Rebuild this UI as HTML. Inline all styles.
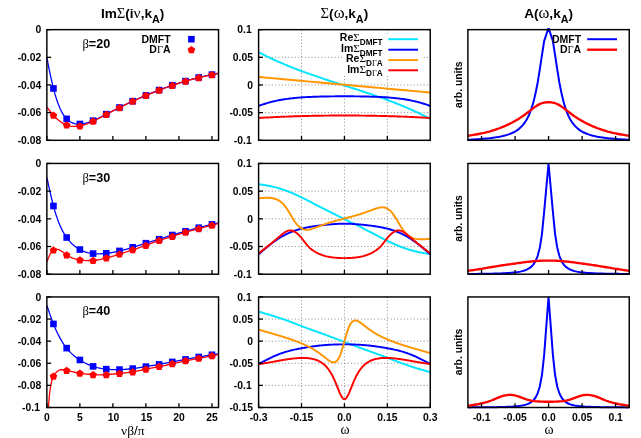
<!DOCTYPE html>
<html><head><meta charset="utf-8"><title>Self-energy and spectral function</title>
<style>html,body{margin:0;padding:0;background:#fff;overflow:hidden}body{width:641px;height:438px;font-family:"Liberation Sans",sans-serif}svg text{fill:#000}</style></head>
<body>
<svg width="641" height="438" viewBox="0 0 641 438" style="display:block;will-change:transform"><defs><clipPath id="c00"><rect x="46.85" y="29.65" width="171.7" height="110.65"/></clipPath><clipPath id="c01"><rect x="46.85" y="163.45" width="171.7" height="110.75"/></clipPath><clipPath id="c02"><rect x="46.85" y="296.95" width="171.7" height="110.55"/></clipPath><clipPath id="c10"><rect x="258.6" y="29.65" width="171.65" height="110.65"/></clipPath><clipPath id="c11"><rect x="258.6" y="163.45" width="171.65" height="110.75"/></clipPath><clipPath id="c12"><rect x="258.6" y="296.95" width="171.65" height="110.55"/></clipPath><clipPath id="c20"><rect x="467.9" y="27.95" width="161.35" height="113.55"/></clipPath><clipPath id="c21"><rect x="467.9" y="163.25" width="161.35" height="112.15"/></clipPath><clipPath id="c22"><rect x="467.9" y="296.75" width="161.35" height="111.95"/></clipPath></defs><rect width="641" height="438" fill="#fff"/><path d="M46.85 57.73 L48.17 64.3 L49.49 70.77 L50.81 77.02 L52.13 82.94 L53.45 88.43 L54.77 93.4 L56.1 97.86 L57.42 101.83 L58.74 105.36 L60.06 108.47 L61.38 111.2 L62.7 113.57 L64.02 115.61 L65.34 117.37 L66.66 118.86 L67.98 120.13 L69.3 121.18 L70.62 122.03 L71.94 122.71 L73.27 123.23 L74.59 123.6 L75.91 123.85 L77.23 123.98 L78.55 124.02 L79.87 123.98 L81.19 123.88 L82.51 123.72 L83.83 123.5 L85.15 123.23 L86.47 122.91 L87.79 122.55 L89.11 122.14 L90.44 121.68 L91.76 121.19 L93.08 120.66 L94.4 120.1 L95.72 119.5 L97.04 118.88 L98.36 118.24 L99.68 117.58 L101 116.91 L102.32 116.23 L103.64 115.54 L104.96 114.85 L106.28 114.16 L107.61 113.48 L108.93 112.8 L110.25 112.13 L111.57 111.46 L112.89 110.79 L114.21 110.13 L115.53 109.48 L116.85 108.82 L118.17 108.17 L119.49 107.52 L120.81 106.87 L122.13 106.22 L123.45 105.58 L124.78 104.93 L126.1 104.29 L127.42 103.66 L128.74 103.02 L130.06 102.4 L131.38 101.77 L132.7 101.16 L134.02 100.55 L135.34 99.94 L136.66 99.35 L137.98 98.76 L139.3 98.17 L140.62 97.6 L141.95 97.03 L143.27 96.46 L144.59 95.9 L145.91 95.35 L147.23 94.8 L148.55 94.26 L149.87 93.72 L151.19 93.19 L152.51 92.67 L153.83 92.15 L155.15 91.63 L156.47 91.11 L157.79 90.6 L159.12 90.09 L160.44 89.59 L161.76 89.08 L163.08 88.59 L164.4 88.09 L165.72 87.6 L167.04 87.12 L168.36 86.64 L169.68 86.17 L171 85.71 L172.32 85.25 L173.64 84.81 L174.96 84.37 L176.29 83.94 L177.61 83.51 L178.93 83.1 L180.25 82.69 L181.57 82.28 L182.89 81.89 L184.21 81.49 L185.53 81.1 L186.85 80.72 L188.17 80.33 L189.49 79.96 L190.81 79.59 L192.13 79.22 L193.46 78.86 L194.78 78.51 L196.1 78.17 L197.42 77.83 L198.74 77.51 L200.06 77.19 L201.38 76.88 L202.7 76.58 L204.02 76.28 L205.34 76 L206.66 75.71 L207.98 75.43 L209.3 75.15 L210.63 74.88 L211.95 74.6 L213.27 74.33 L214.59 74.05 L215.91 73.77 L217.23 73.5 L218.55 73.22" fill="none" stroke="#0000ff" stroke-width="1.3" stroke-linejoin="round" stroke-linecap="butt" clip-path="url(#c00)"/>
<path d="M46.85 107.1 L48.17 108.82 L49.49 110.51 L50.81 112.16 L52.13 113.75 L53.45 115.27 L54.77 116.69 L56.1 118.01 L57.42 119.23 L58.74 120.36 L60.06 121.39 L61.38 122.32 L62.7 123.16 L64.02 123.9 L65.34 124.54 L66.66 125.09 L67.98 125.53 L69.3 125.89 L70.62 126.16 L71.94 126.34 L73.27 126.44 L74.59 126.47 L75.91 126.43 L77.23 126.32 L78.55 126.15 L79.87 125.92 L81.19 125.63 L82.51 125.29 L83.83 124.91 L85.15 124.48 L86.47 124.02 L87.79 123.52 L89.11 122.98 L90.44 122.42 L91.76 121.83 L93.08 121.21 L94.4 120.58 L95.72 119.93 L97.04 119.27 L98.36 118.6 L99.68 117.92 L101 117.23 L102.32 116.53 L103.64 115.83 L104.96 115.13 L106.28 114.44 L107.61 113.74 L108.93 113.05 L110.25 112.36 L111.57 111.68 L112.89 111 L114.21 110.32 L115.53 109.65 L116.85 108.98 L118.17 108.32 L119.49 107.66 L120.81 107 L122.13 106.35 L123.45 105.7 L124.78 105.06 L126.1 104.42 L127.42 103.78 L128.74 103.15 L130.06 102.53 L131.38 101.91 L132.7 101.3 L134.02 100.69 L135.34 100.09 L136.66 99.49 L137.98 98.9 L139.3 98.32 L140.62 97.74 L141.95 97.17 L143.27 96.6 L144.59 96.04 L145.91 95.49 L147.23 94.94 L148.55 94.4 L149.87 93.86 L151.19 93.33 L152.51 92.8 L153.83 92.28 L155.15 91.76 L156.47 91.25 L157.79 90.74 L159.12 90.23 L160.44 89.73 L161.76 89.22 L163.08 88.72 L164.4 88.23 L165.72 87.74 L167.04 87.26 L168.36 86.78 L169.68 86.31 L171 85.84 L172.32 85.39 L173.64 84.94 L174.96 84.51 L176.29 84.08 L177.61 83.65 L178.93 83.24 L180.25 82.83 L181.57 82.42 L182.89 82.02 L184.21 81.63 L185.53 81.24 L186.85 80.85 L188.17 80.47 L189.49 80.1 L190.81 79.73 L192.13 79.36 L193.46 79 L194.78 78.65 L196.1 78.31 L197.42 77.97 L198.74 77.64 L200.06 77.33 L201.38 77.02 L202.7 76.72 L204.02 76.42 L205.34 76.13 L206.66 75.85 L207.98 75.57 L209.3 75.29 L210.63 75.02 L211.95 74.74 L213.27 74.46 L214.59 74.19 L215.91 73.91 L217.23 73.64 L218.55 73.36" fill="none" stroke="#ff0000" stroke-width="1.3" stroke-linejoin="round" stroke-linecap="butt" clip-path="url(#c00)"/>
<rect x="50.15" y="85.13" width="6.6" height="6.6" fill="#0000ff"/>
<rect x="63.36" y="115.56" width="6.6" height="6.6" fill="#0000ff"/>
<rect x="76.57" y="120.68" width="6.6" height="6.6" fill="#0000ff"/>
<rect x="89.78" y="117.36" width="6.6" height="6.6" fill="#0000ff"/>
<rect x="102.98" y="110.86" width="6.6" height="6.6" fill="#0000ff"/>
<rect x="116.19" y="104.22" width="6.6" height="6.6" fill="#0000ff"/>
<rect x="129.4" y="97.86" width="6.6" height="6.6" fill="#0000ff"/>
<rect x="142.61" y="92.05" width="6.6" height="6.6" fill="#0000ff"/>
<rect x="155.82" y="86.79" width="6.6" height="6.6" fill="#0000ff"/>
<rect x="169.02" y="81.95" width="6.6" height="6.6" fill="#0000ff"/>
<rect x="182.23" y="77.8" width="6.6" height="6.6" fill="#0000ff"/>
<rect x="195.44" y="74.21" width="6.6" height="6.6" fill="#0000ff"/>
<rect x="208.65" y="71.3" width="6.6" height="6.6" fill="#0000ff"/>
<polygon points="53.45,111.52 57.26,114.28 55.8,118.75 51.1,118.75 49.65,114.28" fill="#ff0000"/>
<polygon points="66.66,121.34 70.47,124.1 69.01,128.57 64.31,128.57 62.86,124.1" fill="#ff0000"/>
<polygon points="79.87,122.17 83.67,124.93 82.22,129.4 77.52,129.4 76.07,124.93" fill="#ff0000"/>
<polygon points="93.08,117.46 96.88,120.23 95.43,124.7 90.73,124.7 89.27,120.23" fill="#ff0000"/>
<polygon points="106.28,110.69 110.09,113.45 108.64,117.92 103.93,117.92 102.48,113.45" fill="#ff0000"/>
<polygon points="119.49,103.91 123.3,106.67 121.84,111.14 117.14,111.14 115.69,106.67" fill="#ff0000"/>
<polygon points="132.7,97.55 136.5,100.31 135.05,104.78 130.35,104.78 128.9,100.31" fill="#ff0000"/>
<polygon points="145.91,91.74 149.71,94.5 148.26,98.97 143.56,98.97 142.1,94.5" fill="#ff0000"/>
<polygon points="159.12,86.48 162.92,89.24 161.47,93.72 156.76,93.72 155.31,89.24" fill="#ff0000"/>
<polygon points="172.32,81.64 176.13,84.4 174.67,88.88 169.97,88.88 168.52,84.4" fill="#ff0000"/>
<polygon points="185.53,77.49 189.33,80.25 187.88,84.73 183.18,84.73 181.73,80.25" fill="#ff0000"/>
<polygon points="198.74,73.89 202.54,76.66 201.09,81.13 196.39,81.13 194.93,76.66" fill="#ff0000"/>
<polygon points="211.95,70.99 215.75,73.75 214.3,78.23 209.6,78.23 208.14,73.75" fill="#ff0000"/>
<rect x="46.85" y="29.65" width="171.7" height="110.65" fill="none" stroke="#000" stroke-width="1.45"/>
<line x1="46.85" y1="29.65" x2="51.15" y2="29.65" stroke="#000" stroke-width="1.3"/><text x="41.25" y="33.35" text-anchor="end" font-family='"Liberation Sans", sans-serif' font-weight="bold" font-size="10.35">0</text><line x1="46.85" y1="57.31" x2="51.15" y2="57.31" stroke="#000" stroke-width="1.3"/><text x="41.25" y="61.01" text-anchor="end" font-family='"Liberation Sans", sans-serif' font-weight="bold" font-size="10.35">-0.02</text><line x1="46.85" y1="84.97" x2="51.15" y2="84.97" stroke="#000" stroke-width="1.3"/><text x="41.25" y="88.67" text-anchor="end" font-family='"Liberation Sans", sans-serif' font-weight="bold" font-size="10.35">-0.04</text><line x1="46.85" y1="112.64" x2="51.15" y2="112.64" stroke="#000" stroke-width="1.3"/><text x="41.25" y="116.34" text-anchor="end" font-family='"Liberation Sans", sans-serif' font-weight="bold" font-size="10.35">-0.06</text><line x1="46.85" y1="140.3" x2="51.15" y2="140.3" stroke="#000" stroke-width="1.3"/><text x="41.25" y="144" text-anchor="end" font-family='"Liberation Sans", sans-serif' font-weight="bold" font-size="10.35">-0.08</text>
<line x1="46.85" y1="140.3" x2="46.85" y2="136" stroke="#000" stroke-width="1.3"/><line x1="79.87" y1="140.3" x2="79.87" y2="136" stroke="#000" stroke-width="1.3"/><line x1="112.89" y1="140.3" x2="112.89" y2="136" stroke="#000" stroke-width="1.3"/><line x1="145.91" y1="140.3" x2="145.91" y2="136" stroke="#000" stroke-width="1.3"/><line x1="178.93" y1="140.3" x2="178.93" y2="136" stroke="#000" stroke-width="1.3"/><line x1="211.95" y1="140.3" x2="211.95" y2="136" stroke="#000" stroke-width="1.3"/>
<text x="82.4" y="47.85" font-size="12.6"><tspan font-family='"Liberation Serif", serif'>β</tspan><tspan font-family='"Liberation Sans", sans-serif' font-weight="bold">=20</tspan></text>
<text x="170.6" y="42.8" text-anchor="end" font-family='"Liberation Sans", sans-serif' font-weight="bold" font-size="10.5">DMFT</text>
<text x="170.6" y="53.4" text-anchor="end" font-size="10.5"><tspan font-family='"Liberation Sans", sans-serif' font-weight="bold">D</tspan><tspan font-family='"Liberation Serif", serif'>Γ</tspan><tspan font-family='"Liberation Sans", sans-serif' font-weight="bold">A</tspan></text>
<rect x="188.1" y="35.9" width="6.6" height="6.6" fill="#0000ff"/>
<polygon points="191.4,46.05 195.2,48.81 193.75,53.29 189.05,53.29 187.6,48.81" fill="#ff0000"/>
<path d="M46.85 177.29 L48.17 183.39 L49.49 189.4 L50.81 195.23 L52.13 200.77 L53.45 205.95 L54.77 210.69 L56.1 214.99 L57.42 218.89 L58.74 222.43 L60.06 225.62 L61.38 228.5 L62.7 231.1 L64.02 233.45 L65.34 235.58 L66.66 237.51 L67.98 239.29 L69.3 240.91 L70.62 242.4 L71.94 243.75 L73.27 244.97 L74.59 246.08 L75.91 247.09 L77.23 248 L78.55 248.82 L79.87 249.56 L81.19 250.23 L82.51 250.83 L83.83 251.37 L85.15 251.85 L86.47 252.27 L87.79 252.63 L89.11 252.94 L90.44 253.2 L91.76 253.41 L93.08 253.57 L94.4 253.7 L95.72 253.78 L97.04 253.82 L98.36 253.83 L99.68 253.81 L101 253.76 L102.32 253.68 L103.64 253.57 L104.96 253.44 L106.28 253.3 L107.61 253.13 L108.93 252.95 L110.25 252.75 L111.57 252.54 L112.89 252.31 L114.21 252.06 L115.53 251.8 L116.85 251.53 L118.17 251.24 L119.49 250.94 L120.81 250.63 L122.13 250.3 L123.45 249.97 L124.78 249.62 L126.1 249.26 L127.42 248.9 L128.74 248.52 L130.06 248.13 L131.38 247.74 L132.7 247.34 L134.02 246.94 L135.34 246.53 L136.66 246.11 L137.98 245.69 L139.3 245.28 L140.62 244.85 L141.95 244.44 L143.27 244.02 L144.59 243.6 L145.91 243.19 L147.23 242.78 L148.55 242.38 L149.87 241.98 L151.19 241.58 L152.51 241.18 L153.83 240.79 L155.15 240.39 L156.47 239.99 L157.79 239.58 L159.12 239.18 L160.44 238.76 L161.76 238.35 L163.08 237.93 L164.4 237.5 L165.72 237.08 L167.04 236.66 L168.36 236.25 L169.68 235.83 L171 235.42 L172.32 235.02 L173.64 234.63 L174.96 234.24 L176.29 233.86 L177.61 233.48 L178.93 233.11 L180.25 232.74 L181.57 232.38 L182.89 232.01 L184.21 231.65 L185.53 231.28 L186.85 230.92 L188.17 230.56 L189.49 230.19 L190.81 229.83 L192.13 229.47 L193.46 229.1 L194.78 228.75 L196.1 228.39 L197.42 228.04 L198.74 227.69 L200.06 227.34 L201.38 227 L202.7 226.66 L204.02 226.32 L205.34 225.99 L206.66 225.66 L207.98 225.33 L209.3 225 L210.63 224.68 L211.95 224.36 L213.27 224.04 L214.59 223.73 L215.91 223.41 L217.23 223.1 L218.55 222.78" fill="none" stroke="#0000ff" stroke-width="1.3" stroke-linejoin="round" stroke-linecap="butt" clip-path="url(#c01)"/>
<path d="M46.85 262.02 L48.17 258.58 L49.49 255.46 L50.81 252.99 L52.13 251.25 L53.45 250.11 L54.77 249.45 L56.1 249.2 L57.42 249.29 L58.74 249.68 L60.06 250.3 L61.38 251.11 L62.7 252.03 L64.02 253.02 L65.34 254.01 L66.66 254.96 L67.98 255.81 L69.3 256.56 L70.62 257.22 L71.94 257.8 L73.27 258.31 L74.59 258.74 L75.91 259.11 L77.23 259.43 L78.55 259.71 L79.87 259.94 L81.19 260.14 L82.51 260.31 L83.83 260.45 L85.15 260.56 L86.47 260.63 L87.79 260.67 L89.11 260.68 L90.44 260.65 L91.76 260.59 L93.08 260.49 L94.4 260.36 L95.72 260.2 L97.04 260.01 L98.36 259.78 L99.68 259.54 L101 259.27 L102.32 258.98 L103.64 258.67 L104.96 258.34 L106.28 258 L107.61 257.65 L108.93 257.29 L110.25 256.92 L111.57 256.54 L112.89 256.16 L114.21 255.76 L115.53 255.36 L116.85 254.96 L118.17 254.54 L119.49 254.13 L120.81 253.71 L122.13 253.28 L123.45 252.86 L124.78 252.43 L126.1 252 L127.42 251.56 L128.74 251.13 L130.06 250.7 L131.38 250.27 L132.7 249.83 L134.02 249.4 L135.34 248.97 L136.66 248.54 L137.98 248.11 L139.3 247.67 L140.62 247.23 L141.95 246.79 L143.27 246.34 L144.59 245.87 L145.91 245.4 L147.23 244.93 L148.55 244.44 L149.87 243.95 L151.19 243.45 L152.51 242.96 L153.83 242.46 L155.15 241.97 L156.47 241.49 L157.79 241.02 L159.12 240.56 L160.44 240.11 L161.76 239.68 L163.08 239.26 L164.4 238.84 L165.72 238.43 L167.04 238.03 L168.36 237.62 L169.68 237.22 L171 236.82 L172.32 236.41 L173.64 235.99 L174.96 235.57 L176.29 235.15 L177.61 234.73 L178.93 234.3 L180.25 233.88 L181.57 233.47 L182.89 233.05 L184.21 232.65 L185.53 232.25 L186.85 231.87 L188.17 231.49 L189.49 231.12 L190.81 230.76 L192.13 230.4 L193.46 230.05 L194.78 229.7 L196.1 229.35 L197.42 229 L198.74 228.65 L200.06 228.31 L201.38 227.96 L202.7 227.61 L204.02 227.26 L205.34 226.91 L206.66 226.56 L207.98 226.21 L209.3 225.87 L210.63 225.53 L211.95 225.19 L213.27 224.86 L214.59 224.53 L215.91 224.2 L217.23 223.87 L218.55 223.55" fill="none" stroke="#ff0000" stroke-width="1.3" stroke-linejoin="round" stroke-linecap="butt" clip-path="url(#c01)"/>
<rect x="50.15" y="202.65" width="6.6" height="6.6" fill="#0000ff"/>
<rect x="63.36" y="234.21" width="6.6" height="6.6" fill="#0000ff"/>
<rect x="76.57" y="246.26" width="6.6" height="6.6" fill="#0000ff"/>
<rect x="89.78" y="250.27" width="6.6" height="6.6" fill="#0000ff"/>
<rect x="102.98" y="250" width="6.6" height="6.6" fill="#0000ff"/>
<rect x="116.19" y="247.64" width="6.6" height="6.6" fill="#0000ff"/>
<rect x="129.4" y="244.04" width="6.6" height="6.6" fill="#0000ff"/>
<rect x="142.61" y="239.89" width="6.6" height="6.6" fill="#0000ff"/>
<rect x="155.82" y="235.88" width="6.6" height="6.6" fill="#0000ff"/>
<rect x="169.02" y="231.72" width="6.6" height="6.6" fill="#0000ff"/>
<rect x="182.23" y="227.98" width="6.6" height="6.6" fill="#0000ff"/>
<rect x="195.44" y="224.38" width="6.6" height="6.6" fill="#0000ff"/>
<rect x="208.65" y="221.06" width="6.6" height="6.6" fill="#0000ff"/>
<polygon points="53.45,246.36 57.26,249.13 55.8,253.6 51.1,253.6 49.65,249.13" fill="#ff0000"/>
<polygon points="66.66,251.21 70.47,253.97 69.01,258.44 64.31,258.44 62.86,253.97" fill="#ff0000"/>
<polygon points="79.87,256.19 83.67,258.95 82.22,263.43 77.52,263.43 76.07,258.95" fill="#ff0000"/>
<polygon points="93.08,256.74 96.88,259.51 95.43,263.98 90.73,263.98 89.27,259.51" fill="#ff0000"/>
<polygon points="106.28,254.25 110.09,257.02 108.64,261.49 103.93,261.49 102.48,257.02" fill="#ff0000"/>
<polygon points="119.49,250.38 123.3,253.14 121.84,257.61 117.14,257.61 115.69,253.14" fill="#ff0000"/>
<polygon points="132.7,246.08 136.5,248.85 135.05,253.32 130.35,253.32 128.9,248.85" fill="#ff0000"/>
<polygon points="145.91,241.65 149.71,244.42 148.26,248.89 143.56,248.89 142.1,244.42" fill="#ff0000"/>
<polygon points="159.12,236.81 162.92,239.57 161.47,244.05 156.76,244.05 155.31,239.57" fill="#ff0000"/>
<polygon points="172.32,232.66 176.13,235.42 174.67,239.89 169.97,239.89 168.52,235.42" fill="#ff0000"/>
<polygon points="185.53,228.5 189.33,231.27 187.88,235.74 183.18,235.74 181.73,231.27" fill="#ff0000"/>
<polygon points="198.74,224.9 202.54,227.67 201.09,232.14 196.39,232.14 194.93,227.67" fill="#ff0000"/>
<polygon points="211.95,221.44 215.75,224.21 214.3,228.68 209.6,228.68 208.14,224.21" fill="#ff0000"/>
<rect x="46.85" y="163.45" width="171.7" height="110.75" fill="none" stroke="#000" stroke-width="1.45"/>
<line x1="46.85" y1="163.45" x2="51.15" y2="163.45" stroke="#000" stroke-width="1.3"/><text x="41.25" y="167.15" text-anchor="end" font-family='"Liberation Sans", sans-serif' font-weight="bold" font-size="10.35">0</text><line x1="46.85" y1="191.14" x2="51.15" y2="191.14" stroke="#000" stroke-width="1.3"/><text x="41.25" y="194.84" text-anchor="end" font-family='"Liberation Sans", sans-serif' font-weight="bold" font-size="10.35">-0.02</text><line x1="46.85" y1="218.82" x2="51.15" y2="218.82" stroke="#000" stroke-width="1.3"/><text x="41.25" y="222.52" text-anchor="end" font-family='"Liberation Sans", sans-serif' font-weight="bold" font-size="10.35">-0.04</text><line x1="46.85" y1="246.51" x2="51.15" y2="246.51" stroke="#000" stroke-width="1.3"/><text x="41.25" y="250.21" text-anchor="end" font-family='"Liberation Sans", sans-serif' font-weight="bold" font-size="10.35">-0.06</text><line x1="46.85" y1="274.2" x2="51.15" y2="274.2" stroke="#000" stroke-width="1.3"/><text x="41.25" y="277.9" text-anchor="end" font-family='"Liberation Sans", sans-serif' font-weight="bold" font-size="10.35">-0.08</text>
<line x1="46.85" y1="274.2" x2="46.85" y2="269.9" stroke="#000" stroke-width="1.3"/><line x1="79.87" y1="274.2" x2="79.87" y2="269.9" stroke="#000" stroke-width="1.3"/><line x1="112.89" y1="274.2" x2="112.89" y2="269.9" stroke="#000" stroke-width="1.3"/><line x1="145.91" y1="274.2" x2="145.91" y2="269.9" stroke="#000" stroke-width="1.3"/><line x1="178.93" y1="274.2" x2="178.93" y2="269.9" stroke="#000" stroke-width="1.3"/><line x1="211.95" y1="274.2" x2="211.95" y2="269.9" stroke="#000" stroke-width="1.3"/>
<text x="82.4" y="181.65" font-size="12.6"><tspan font-family='"Liberation Serif", serif'>β</tspan><tspan font-family='"Liberation Sans", sans-serif' font-weight="bold">=30</tspan></text>
<path d="M46.85 305.46 L48.17 309.33 L49.49 313.15 L50.81 316.88 L52.13 320.49 L53.45 323.92 L54.77 327.16 L56.1 330.18 L57.42 333.01 L58.74 335.66 L60.06 338.13 L61.38 340.43 L62.7 342.57 L64.02 344.56 L65.34 346.41 L66.66 348.13 L67.98 349.73 L69.3 351.22 L70.62 352.6 L71.94 353.88 L73.27 355.07 L74.59 356.18 L75.91 357.21 L77.23 358.19 L78.55 359.1 L79.87 359.96 L81.19 360.79 L82.51 361.57 L83.83 362.31 L85.15 363.01 L86.47 363.67 L87.79 364.29 L89.11 364.87 L90.44 365.41 L91.76 365.91 L93.08 366.38 L94.4 366.8 L95.72 367.19 L97.04 367.54 L98.36 367.85 L99.68 368.14 L101 368.39 L102.32 368.62 L103.64 368.82 L104.96 368.99 L106.28 369.14 L107.61 369.27 L108.93 369.37 L110.25 369.46 L111.57 369.53 L112.89 369.58 L114.21 369.61 L115.53 369.63 L116.85 369.63 L118.17 369.61 L119.49 369.58 L120.81 369.54 L122.13 369.48 L123.45 369.41 L124.78 369.33 L126.1 369.24 L127.42 369.13 L128.74 369.01 L130.06 368.88 L131.38 368.74 L132.7 368.59 L134.02 368.42 L135.34 368.24 L136.66 368.06 L137.98 367.86 L139.3 367.66 L140.62 367.46 L141.95 367.24 L143.27 367.03 L144.59 366.81 L145.91 366.6 L147.23 366.38 L148.55 366.16 L149.87 365.95 L151.19 365.73 L152.51 365.51 L153.83 365.29 L155.15 365.07 L156.47 364.84 L157.79 364.61 L159.12 364.39 L160.44 364.15 L161.76 363.92 L163.08 363.68 L164.4 363.44 L165.72 363.2 L167.04 362.95 L168.36 362.7 L169.68 362.46 L171 362.21 L172.32 361.95 L173.64 361.7 L174.96 361.45 L176.29 361.19 L177.61 360.94 L178.93 360.68 L180.25 360.43 L181.57 360.17 L182.89 359.92 L184.21 359.66 L185.53 359.41 L186.85 359.16 L188.17 358.91 L189.49 358.66 L190.81 358.41 L192.13 358.17 L193.46 357.93 L194.78 357.69 L196.1 357.45 L197.42 357.21 L198.74 356.98 L200.06 356.75 L201.38 356.52 L202.7 356.29 L204.02 356.07 L205.34 355.85 L206.66 355.63 L207.98 355.41 L209.3 355.19 L210.63 354.98 L211.95 354.77 L213.27 354.56 L214.59 354.35 L215.91 354.14 L217.23 353.93 L218.55 353.72" fill="none" stroke="#0000ff" stroke-width="1.3" stroke-linejoin="round" stroke-linecap="butt" clip-path="url(#c02)"/>
<path d="M46.85 435.14 L48.17 410.32 L49.49 394.29 L50.81 385.12 L52.13 379.28 L53.45 376.21 L54.77 374.1 L56.1 372.47 L57.42 371.27 L58.74 370.46 L60.06 369.97 L61.38 369.75 L62.7 369.74 L64.02 369.9 L65.34 370.16 L66.66 370.47 L67.98 370.78 L69.3 371.09 L70.62 371.39 L71.94 371.69 L73.27 371.97 L74.59 372.25 L75.91 372.51 L77.23 372.77 L78.55 373 L79.87 373.23 L81.19 373.44 L82.51 373.63 L83.83 373.81 L85.15 373.98 L86.47 374.13 L87.79 374.27 L89.11 374.39 L90.44 374.49 L91.76 374.59 L93.08 374.67 L94.4 374.73 L95.72 374.78 L97.04 374.82 L98.36 374.84 L99.68 374.85 L101 374.85 L102.32 374.82 L103.64 374.79 L104.96 374.73 L106.28 374.67 L107.61 374.58 L108.93 374.49 L110.25 374.38 L111.57 374.26 L112.89 374.13 L114.21 374 L115.53 373.86 L116.85 373.72 L118.17 373.59 L119.49 373.45 L120.81 373.32 L122.13 373.19 L123.45 373.06 L124.78 372.93 L126.1 372.79 L127.42 372.64 L128.74 372.48 L130.06 372.3 L131.38 372.11 L132.7 371.9 L134.02 371.67 L135.34 371.42 L136.66 371.16 L137.98 370.88 L139.3 370.6 L140.62 370.3 L141.95 370.01 L143.27 369.71 L144.59 369.42 L145.91 369.14 L147.23 368.86 L148.55 368.6 L149.87 368.34 L151.19 368.09 L152.51 367.84 L153.83 367.59 L155.15 367.34 L156.47 367.1 L157.79 366.85 L159.12 366.6 L160.44 366.34 L161.76 366.08 L163.08 365.81 L164.4 365.54 L165.72 365.27 L167.04 364.99 L168.36 364.71 L169.68 364.42 L171 364.13 L172.32 363.83 L173.64 363.53 L174.96 363.23 L176.29 362.93 L177.61 362.62 L178.93 362.32 L180.25 362.01 L181.57 361.71 L182.89 361.42 L184.21 361.13 L185.53 360.85 L186.85 360.57 L188.17 360.3 L189.49 360.04 L190.81 359.79 L192.13 359.53 L193.46 359.28 L194.78 359.04 L196.1 358.79 L197.42 358.55 L198.74 358.31 L200.06 358.06 L201.38 357.81 L202.7 357.57 L204.02 357.32 L205.34 357.08 L206.66 356.83 L207.98 356.59 L209.3 356.35 L210.63 356.11 L211.95 355.87 L213.27 355.64 L214.59 355.41 L215.91 355.18 L217.23 354.95 L218.55 354.72" fill="none" stroke="#ff0000" stroke-width="1.3" stroke-linejoin="round" stroke-linecap="butt" clip-path="url(#c02)"/>
<rect x="50.15" y="320.62" width="6.6" height="6.6" fill="#0000ff"/>
<rect x="63.36" y="344.83" width="6.6" height="6.6" fill="#0000ff"/>
<rect x="76.57" y="356.66" width="6.6" height="6.6" fill="#0000ff"/>
<rect x="89.78" y="363.08" width="6.6" height="6.6" fill="#0000ff"/>
<rect x="102.98" y="365.84" width="6.6" height="6.6" fill="#0000ff"/>
<rect x="116.19" y="366.28" width="6.6" height="6.6" fill="#0000ff"/>
<rect x="129.4" y="365.29" width="6.6" height="6.6" fill="#0000ff"/>
<rect x="142.61" y="363.3" width="6.6" height="6.6" fill="#0000ff"/>
<rect x="155.82" y="361.09" width="6.6" height="6.6" fill="#0000ff"/>
<rect x="169.02" y="358.65" width="6.6" height="6.6" fill="#0000ff"/>
<rect x="182.23" y="356.11" width="6.6" height="6.6" fill="#0000ff"/>
<rect x="195.44" y="353.68" width="6.6" height="6.6" fill="#0000ff"/>
<rect x="208.65" y="351.47" width="6.6" height="6.6" fill="#0000ff"/>
<polygon points="53.45,372.46 57.26,375.23 55.8,379.7 51.1,379.7 49.65,375.23" fill="#ff0000"/>
<polygon points="66.66,366.72 70.47,369.48 69.01,373.95 64.31,373.95 62.86,369.48" fill="#ff0000"/>
<polygon points="79.87,369.48 83.67,372.24 82.22,376.72 77.52,376.72 76.07,372.24" fill="#ff0000"/>
<polygon points="93.08,370.92 96.88,373.68 95.43,378.15 90.73,378.15 89.27,373.68" fill="#ff0000"/>
<polygon points="106.28,370.92 110.09,373.68 108.64,378.15 103.93,378.15 102.48,373.68" fill="#ff0000"/>
<polygon points="119.49,369.7 123.3,372.46 121.84,376.94 117.14,376.94 115.69,372.46" fill="#ff0000"/>
<polygon points="132.7,368.15 136.5,370.92 135.05,375.39 130.35,375.39 128.9,370.92" fill="#ff0000"/>
<polygon points="145.91,365.39 149.71,368.15 148.26,372.63 143.56,372.63 142.1,368.15" fill="#ff0000"/>
<polygon points="159.12,362.85 162.92,365.61 161.47,370.08 156.76,370.08 155.31,365.61" fill="#ff0000"/>
<polygon points="172.32,360.08 176.13,362.85 174.67,367.32 169.97,367.32 168.52,362.85" fill="#ff0000"/>
<polygon points="185.53,357.1 189.33,359.86 187.88,364.33 183.18,364.33 181.73,359.86" fill="#ff0000"/>
<polygon points="198.74,354.56 202.54,357.32 201.09,361.79 196.39,361.79 194.93,357.32" fill="#ff0000"/>
<polygon points="211.95,352.12 215.75,354.89 214.3,359.36 209.6,359.36 208.14,354.89" fill="#ff0000"/>
<rect x="46.85" y="296.95" width="171.7" height="110.55" fill="none" stroke="#000" stroke-width="1.45"/>
<line x1="46.85" y1="296.95" x2="51.15" y2="296.95" stroke="#000" stroke-width="1.3"/><text x="41.25" y="300.65" text-anchor="end" font-family='"Liberation Sans", sans-serif' font-weight="bold" font-size="10.35">0</text><line x1="46.85" y1="319.06" x2="51.15" y2="319.06" stroke="#000" stroke-width="1.3"/><text x="41.25" y="322.76" text-anchor="end" font-family='"Liberation Sans", sans-serif' font-weight="bold" font-size="10.35">-0.02</text><line x1="46.85" y1="341.17" x2="51.15" y2="341.17" stroke="#000" stroke-width="1.3"/><text x="41.25" y="344.87" text-anchor="end" font-family='"Liberation Sans", sans-serif' font-weight="bold" font-size="10.35">-0.04</text><line x1="46.85" y1="363.28" x2="51.15" y2="363.28" stroke="#000" stroke-width="1.3"/><text x="41.25" y="366.98" text-anchor="end" font-family='"Liberation Sans", sans-serif' font-weight="bold" font-size="10.35">-0.06</text><line x1="46.85" y1="385.39" x2="51.15" y2="385.39" stroke="#000" stroke-width="1.3"/><text x="41.25" y="389.09" text-anchor="end" font-family='"Liberation Sans", sans-serif' font-weight="bold" font-size="10.35">-0.08</text><line x1="46.85" y1="407.5" x2="51.15" y2="407.5" stroke="#000" stroke-width="1.3"/><text x="39.95" y="411.2" text-anchor="end" font-family='"Liberation Sans", sans-serif' font-weight="bold" font-size="10.35">-0.1</text>
<line x1="46.85" y1="407.5" x2="46.85" y2="403.2" stroke="#000" stroke-width="1.3"/><text x="46.85" y="421.45" text-anchor="middle" font-family='"Liberation Sans", sans-serif' font-weight="bold" font-size="10.35">0</text><line x1="79.87" y1="407.5" x2="79.87" y2="403.2" stroke="#000" stroke-width="1.3"/><text x="79.87" y="421.45" text-anchor="middle" font-family='"Liberation Sans", sans-serif' font-weight="bold" font-size="10.35">5</text><line x1="112.89" y1="407.5" x2="112.89" y2="403.2" stroke="#000" stroke-width="1.3"/><text x="113.49" y="421.45" text-anchor="middle" font-family='"Liberation Sans", sans-serif' font-weight="bold" font-size="10.35">10</text><line x1="145.91" y1="407.5" x2="145.91" y2="403.2" stroke="#000" stroke-width="1.3"/><text x="146.51" y="421.45" text-anchor="middle" font-family='"Liberation Sans", sans-serif' font-weight="bold" font-size="10.35">15</text><line x1="178.93" y1="407.5" x2="178.93" y2="403.2" stroke="#000" stroke-width="1.3"/><text x="178.93" y="421.45" text-anchor="middle" font-family='"Liberation Sans", sans-serif' font-weight="bold" font-size="10.35">20</text><line x1="211.95" y1="407.5" x2="211.95" y2="403.2" stroke="#000" stroke-width="1.3"/><text x="211.95" y="421.45" text-anchor="middle" font-family='"Liberation Sans", sans-serif' font-weight="bold" font-size="10.35">25</text>
<text x="82.4" y="315.15" font-size="12.6"><tspan font-family='"Liberation Serif", serif'>β</tspan><tspan font-family='"Liberation Sans", sans-serif' font-weight="bold">=40</tspan></text>
<g stroke="#000" stroke-width="0.7" stroke-dasharray="1.1 2.2" opacity="0.62"><line x1="301.51" y1="29.65" x2="301.51" y2="140.3"/><line x1="344.43" y1="29.65" x2="344.43" y2="140.3"/><line x1="387.34" y1="29.65" x2="387.34" y2="140.3"/><line x1="258.6" y1="57.31" x2="430.25" y2="57.31"/><line x1="258.6" y1="84.97" x2="430.25" y2="84.97"/><line x1="258.6" y1="112.64" x2="430.25" y2="112.64"/></g>
<path d="M258.6 52.17 L260.03 52.92 L261.46 53.66 L262.89 54.39 L264.32 55.11 L265.75 55.82 L267.18 56.53 L268.61 57.22 L270.04 57.9 L271.47 58.58 L272.9 59.25 L274.33 59.91 L275.77 60.56 L277.2 61.2 L278.63 61.84 L280.06 62.47 L281.49 63.09 L282.92 63.7 L284.35 64.31 L285.78 64.91 L287.21 65.5 L288.64 66.09 L290.07 66.67 L291.5 67.24 L292.93 67.81 L294.36 68.37 L295.79 68.92 L297.22 69.47 L298.65 70.02 L300.08 70.55 L301.51 71.09 L302.94 71.62 L304.37 72.14 L305.8 72.66 L307.23 73.17 L308.66 73.69 L310.1 74.19 L311.53 74.69 L312.96 75.19 L314.39 75.69 L315.82 76.18 L317.25 76.67 L318.68 77.15 L320.11 77.63 L321.54 78.11 L322.97 78.59 L324.4 79.06 L325.83 79.53 L327.26 80 L328.69 80.47 L330.12 80.94 L331.55 81.4 L332.98 81.86 L334.41 82.32 L335.84 82.78 L337.27 83.24 L338.7 83.7 L340.13 84.16 L341.56 84.62 L342.99 85.07 L344.43 85.53 L345.86 85.98 L347.29 86.44 L348.72 86.9 L350.15 87.36 L351.58 87.81 L353.01 88.27 L354.44 88.73 L355.87 89.19 L357.3 89.66 L358.73 90.12 L360.16 90.59 L361.59 91.05 L363.02 91.52 L364.45 91.99 L365.88 92.47 L367.31 92.94 L368.74 93.42 L370.17 93.91 L371.6 94.39 L373.03 94.88 L374.46 95.37 L375.89 95.86 L377.32 96.36 L378.75 96.87 L380.19 97.37 L381.62 97.88 L383.05 98.4 L384.48 98.92 L385.91 99.44 L387.34 99.97 L388.77 100.5 L390.2 101.04 L391.63 101.58 L393.06 102.13 L394.49 102.69 L395.92 103.25 L397.35 103.82 L398.78 104.39 L400.21 104.97 L401.64 105.56 L403.07 106.15 L404.5 106.75 L405.93 107.35 L407.36 107.97 L408.79 108.59 L410.22 109.22 L411.65 109.85 L413.09 110.5 L414.52 111.15 L415.95 111.81 L417.38 112.48 L418.81 113.15 L420.24 113.84 L421.67 114.53 L423.1 115.23 L424.53 115.95 L425.96 116.67 L427.39 117.4 L428.82 118.14 L430.25 118.89" fill="none" stroke="#00e5ff" stroke-width="1.95" stroke-linejoin="round" stroke-linecap="butt" clip-path="url(#c10)"/>
<path d="M258.6 106 L260.03 105.46 L261.46 104.94 L262.89 104.44 L264.32 103.96 L265.75 103.51 L267.18 103.08 L268.61 102.67 L270.04 102.28 L271.47 101.91 L272.9 101.55 L274.33 101.22 L275.77 100.9 L277.2 100.6 L278.63 100.31 L280.06 100.04 L281.49 99.78 L282.92 99.54 L284.35 99.31 L285.78 99.09 L287.21 98.89 L288.64 98.7 L290.07 98.52 L291.5 98.35 L292.93 98.19 L294.36 98.04 L295.79 97.9 L297.22 97.77 L298.65 97.64 L300.08 97.53 L301.51 97.42 L302.94 97.32 L304.37 97.23 L305.8 97.15 L307.23 97.07 L308.66 96.99 L310.1 96.92 L311.53 96.86 L312.96 96.8 L314.39 96.75 L315.82 96.7 L317.25 96.66 L318.68 96.61 L320.11 96.58 L321.54 96.54 L322.97 96.51 L324.4 96.48 L325.83 96.46 L327.26 96.43 L328.69 96.41 L330.12 96.4 L331.55 96.38 L332.98 96.37 L334.41 96.35 L335.84 96.34 L337.27 96.34 L338.7 96.33 L340.13 96.32 L341.56 96.32 L342.99 96.32 L344.43 96.32 L345.86 96.32 L347.29 96.32 L348.72 96.32 L350.15 96.33 L351.58 96.34 L353.01 96.34 L354.44 96.35 L355.87 96.37 L357.3 96.38 L358.73 96.4 L360.16 96.41 L361.59 96.43 L363.02 96.46 L364.45 96.48 L365.88 96.51 L367.31 96.54 L368.74 96.58 L370.17 96.61 L371.6 96.66 L373.03 96.7 L374.46 96.75 L375.89 96.8 L377.32 96.86 L378.75 96.92 L380.19 96.99 L381.62 97.07 L383.05 97.15 L384.48 97.23 L385.91 97.32 L387.34 97.42 L388.77 97.53 L390.2 97.64 L391.63 97.77 L393.06 97.9 L394.49 98.04 L395.92 98.19 L397.35 98.35 L398.78 98.52 L400.21 98.7 L401.64 98.89 L403.07 99.09 L404.5 99.31 L405.93 99.54 L407.36 99.78 L408.79 100.04 L410.22 100.31 L411.65 100.6 L413.09 100.9 L414.52 101.22 L415.95 101.55 L417.38 101.91 L418.81 102.28 L420.24 102.67 L421.67 103.08 L423.1 103.51 L424.53 103.96 L425.96 104.44 L427.39 104.94 L428.82 105.46 L430.25 106" fill="none" stroke="#0000ff" stroke-width="1.95" stroke-linejoin="round" stroke-linecap="butt" clip-path="url(#c10)"/>
<path d="M258.6 76.95 L260.03 77.08 L261.46 77.21 L262.89 77.34 L264.32 77.47 L265.75 77.6 L267.18 77.73 L268.61 77.86 L270.04 77.99 L271.47 78.12 L272.9 78.25 L274.33 78.38 L275.77 78.51 L277.2 78.64 L278.63 78.77 L280.06 78.9 L281.49 79.03 L282.92 79.16 L284.35 79.29 L285.78 79.42 L287.21 79.55 L288.64 79.68 L290.07 79.81 L291.5 79.94 L292.93 80.07 L294.36 80.2 L295.79 80.33 L297.22 80.46 L298.65 80.59 L300.08 80.72 L301.51 80.85 L302.94 80.98 L304.37 81.11 L305.8 81.24 L307.23 81.37 L308.66 81.5 L310.1 81.63 L311.53 81.76 L312.96 81.89 L314.39 82.02 L315.82 82.15 L317.25 82.28 L318.68 82.41 L320.11 82.54 L321.54 82.67 L322.97 82.8 L324.4 82.93 L325.83 83.06 L327.26 83.19 L328.69 83.32 L330.12 83.45 L331.55 83.58 L332.98 83.71 L334.41 83.84 L335.84 83.97 L337.27 84.1 L338.7 84.23 L340.13 84.36 L341.56 84.49 L342.99 84.62 L344.43 84.75 L345.86 84.88 L347.29 85.01 L348.72 85.14 L350.15 85.27 L351.58 85.4 L353.01 85.53 L354.44 85.66 L355.87 85.79 L357.3 85.92 L358.73 86.05 L360.16 86.18 L361.59 86.31 L363.02 86.44 L364.45 86.57 L365.88 86.7 L367.31 86.83 L368.74 86.96 L370.17 87.09 L371.6 87.22 L373.03 87.35 L374.46 87.48 L375.89 87.61 L377.32 87.74 L378.75 87.87 L380.19 88 L381.62 88.13 L383.05 88.26 L384.48 88.39 L385.91 88.52 L387.34 88.65 L388.77 88.78 L390.2 88.91 L391.63 89.04 L393.06 89.17 L394.49 89.3 L395.92 89.43 L397.35 89.56 L398.78 89.69 L400.21 89.82 L401.64 89.95 L403.07 90.08 L404.5 90.21 L405.93 90.34 L407.36 90.47 L408.79 90.6 L410.22 90.73 L411.65 90.86 L413.09 90.99 L414.52 91.12 L415.95 91.25 L417.38 91.38 L418.81 91.51 L420.24 91.64 L421.67 91.77 L423.1 91.9 L424.53 92.03 L425.96 92.16 L427.39 92.29 L428.82 92.42 L430.25 92.55" fill="none" stroke="#ff9500" stroke-width="1.95" stroke-linejoin="round" stroke-linecap="butt" clip-path="url(#c10)"/>
<path d="M258.6 117.95 L260.03 117.87 L261.46 117.79 L262.89 117.72 L264.32 117.64 L265.75 117.56 L267.18 117.49 L268.61 117.42 L270.04 117.35 L271.47 117.28 L272.9 117.21 L274.33 117.14 L275.77 117.08 L277.2 117.01 L278.63 116.95 L280.06 116.89 L281.49 116.83 L282.92 116.77 L284.35 116.71 L285.78 116.65 L287.21 116.6 L288.64 116.55 L290.07 116.49 L291.5 116.44 L292.93 116.39 L294.36 116.34 L295.79 116.3 L297.22 116.25 L298.65 116.21 L300.08 116.17 L301.51 116.12 L302.94 116.08 L304.37 116.05 L305.8 116.01 L307.23 115.97 L308.66 115.94 L310.1 115.9 L311.53 115.87 L312.96 115.84 L314.39 115.81 L315.82 115.79 L317.25 115.76 L318.68 115.73 L320.11 115.71 L321.54 115.69 L322.97 115.67 L324.4 115.65 L325.83 115.63 L327.26 115.61 L328.69 115.6 L330.12 115.58 L331.55 115.57 L332.98 115.56 L334.41 115.55 L335.84 115.54 L337.27 115.53 L338.7 115.53 L340.13 115.52 L341.56 115.52 L342.99 115.52 L344.43 115.51 L345.86 115.52 L347.29 115.52 L348.72 115.52 L350.15 115.53 L351.58 115.53 L353.01 115.54 L354.44 115.55 L355.87 115.56 L357.3 115.57 L358.73 115.58 L360.16 115.6 L361.59 115.61 L363.02 115.63 L364.45 115.65 L365.88 115.67 L367.31 115.69 L368.74 115.71 L370.17 115.73 L371.6 115.76 L373.03 115.79 L374.46 115.81 L375.89 115.84 L377.32 115.87 L378.75 115.9 L380.19 115.94 L381.62 115.97 L383.05 116.01 L384.48 116.05 L385.91 116.08 L387.34 116.12 L388.77 116.17 L390.2 116.21 L391.63 116.25 L393.06 116.3 L394.49 116.34 L395.92 116.39 L397.35 116.44 L398.78 116.49 L400.21 116.55 L401.64 116.6 L403.07 116.65 L404.5 116.71 L405.93 116.77 L407.36 116.83 L408.79 116.89 L410.22 116.95 L411.65 117.01 L413.09 117.08 L414.52 117.14 L415.95 117.21 L417.38 117.28 L418.81 117.35 L420.24 117.42 L421.67 117.49 L423.1 117.56 L424.53 117.64 L425.96 117.72 L427.39 117.79 L428.82 117.87 L430.25 117.95" fill="none" stroke="#ff0000" stroke-width="1.95" stroke-linejoin="round" stroke-linecap="butt" clip-path="url(#c10)"/>
<rect x="258.6" y="29.65" width="171.65" height="110.65" fill="none" stroke="#000" stroke-width="1.45"/>
<line x1="258.6" y1="29.65" x2="262.9" y2="29.65" stroke="#000" stroke-width="1.3"/><text x="251.7" y="33.35" text-anchor="end" font-family='"Liberation Sans", sans-serif' font-weight="bold" font-size="10.35">0.1</text><line x1="258.6" y1="57.31" x2="262.9" y2="57.31" stroke="#000" stroke-width="1.3"/><text x="253" y="61.01" text-anchor="end" font-family='"Liberation Sans", sans-serif' font-weight="bold" font-size="10.35">0.05</text><line x1="258.6" y1="84.97" x2="262.9" y2="84.97" stroke="#000" stroke-width="1.3"/><text x="253" y="88.67" text-anchor="end" font-family='"Liberation Sans", sans-serif' font-weight="bold" font-size="10.35">0</text><line x1="258.6" y1="112.64" x2="262.9" y2="112.64" stroke="#000" stroke-width="1.3"/><text x="253" y="116.34" text-anchor="end" font-family='"Liberation Sans", sans-serif' font-weight="bold" font-size="10.35">-0.05</text><line x1="258.6" y1="140.3" x2="262.9" y2="140.3" stroke="#000" stroke-width="1.3"/><text x="251.7" y="144" text-anchor="end" font-family='"Liberation Sans", sans-serif' font-weight="bold" font-size="10.35">-0.1</text>
<line x1="301.51" y1="140.3" x2="301.51" y2="136" stroke="#000" stroke-width="1.3"/><line x1="344.43" y1="140.3" x2="344.43" y2="136" stroke="#000" stroke-width="1.3"/><line x1="387.34" y1="140.3" x2="387.34" y2="136" stroke="#000" stroke-width="1.3"/>
<rect x="342.8" y="33.8" width="80.7" height="41.7" fill="#fff"/>
<text x="382.6" y="41.4" text-anchor="end" font-size="10.5"><tspan font-family='"Liberation Sans", sans-serif' font-weight="bold">Re</tspan><tspan font-family='"Liberation Serif", serif' font-size="11.3">Σ</tspan><tspan font-family='"Liberation Sans", sans-serif' font-weight="bold" font-size="8.2" dy="3.7">DMFT</tspan></text>
<line x1="388.3" y1="39.2" x2="418" y2="39.2" stroke="#00e5ff" stroke-width="1.95"/>
<text x="382.6" y="51.9" text-anchor="end" font-size="10.5"><tspan font-family='"Liberation Sans", sans-serif' font-weight="bold">Im</tspan><tspan font-family='"Liberation Serif", serif' font-size="11.3">Σ</tspan><tspan font-family='"Liberation Sans", sans-serif' font-weight="bold" font-size="8.2" dy="3.7">DMFT</tspan></text>
<line x1="388.3" y1="49.7" x2="418" y2="49.7" stroke="#0000ff" stroke-width="1.95"/>
<text x="382.6" y="62.3" text-anchor="end" font-size="10.5"><tspan font-family='"Liberation Sans", sans-serif' font-weight="bold">Re</tspan><tspan font-family='"Liberation Serif", serif' font-size="11.3">Σ</tspan><tspan font-family='"Liberation Sans", sans-serif' font-weight="bold" font-size="8.2" dy="3.7">D</tspan><tspan font-family='"Liberation Serif", serif' font-size="8.2">Γ</tspan><tspan font-family='"Liberation Sans", sans-serif' font-weight="bold" font-size="8.2">A</tspan></text>
<line x1="388.3" y1="60.1" x2="418" y2="60.1" stroke="#ff9500" stroke-width="1.95"/>
<text x="382.6" y="72.5" text-anchor="end" font-size="10.5"><tspan font-family='"Liberation Sans", sans-serif' font-weight="bold">Im</tspan><tspan font-family='"Liberation Serif", serif' font-size="11.3">Σ</tspan><tspan font-family='"Liberation Sans", sans-serif' font-weight="bold" font-size="8.2" dy="3.7">D</tspan><tspan font-family='"Liberation Serif", serif' font-size="8.2">Γ</tspan><tspan font-family='"Liberation Sans", sans-serif' font-weight="bold" font-size="8.2">A</tspan></text>
<line x1="388.3" y1="70.3" x2="418" y2="70.3" stroke="#ff0000" stroke-width="1.95"/>
<g stroke="#000" stroke-width="0.7" stroke-dasharray="1.1 2.2" opacity="0.62"><line x1="301.51" y1="163.45" x2="301.51" y2="274.2"/><line x1="344.43" y1="163.45" x2="344.43" y2="274.2"/><line x1="387.34" y1="163.45" x2="387.34" y2="274.2"/><line x1="258.6" y1="191.14" x2="430.25" y2="191.14"/><line x1="258.6" y1="218.82" x2="430.25" y2="218.82"/><line x1="258.6" y1="246.51" x2="430.25" y2="246.51"/></g>
<path d="M258.6 184.1 L259.6 184.27 L260.6 184.43 L261.59 184.59 L262.59 184.75 L263.59 184.92 L264.59 185.09 L265.59 185.27 L266.58 185.45 L267.58 185.63 L268.58 185.82 L269.58 186.02 L270.58 186.22 L271.57 186.44 L272.57 186.66 L273.57 186.89 L274.57 187.13 L275.57 187.38 L276.56 187.65 L277.56 187.92 L278.56 188.2 L279.56 188.5 L280.56 188.8 L281.55 189.12 L282.55 189.44 L283.55 189.78 L284.55 190.12 L285.55 190.48 L286.54 190.84 L287.54 191.22 L288.54 191.6 L289.54 192 L290.53 192.41 L291.53 192.82 L292.53 193.24 L293.53 193.68 L294.53 194.12 L295.52 194.57 L296.52 195.02 L297.52 195.48 L298.52 195.95 L299.52 196.43 L300.51 196.91 L301.51 197.39 L302.51 197.89 L303.51 198.38 L304.51 198.88 L305.5 199.39 L306.5 199.89 L307.5 200.41 L308.5 200.92 L309.5 201.43 L310.49 201.95 L311.49 202.47 L312.49 202.99 L313.49 203.52 L314.49 204.04 L315.48 204.56 L316.48 205.08 L317.48 205.61 L318.48 206.13 L319.48 206.65 L320.47 207.17 L321.47 207.68 L322.47 208.2 L323.47 208.71 L324.47 209.22 L325.46 209.73 L326.46 210.23 L327.46 210.73 L328.46 211.24 L329.46 211.74 L330.45 212.23 L331.45 212.73 L332.45 213.23 L333.45 213.72 L334.45 214.21 L335.44 214.71 L336.44 215.2 L337.44 215.69 L338.44 216.18 L339.44 216.66 L340.43 217.15 L341.43 217.64 L342.43 218.13 L343.43 218.61 L344.43 219.1 L345.42 219.59 L346.42 220.08 L347.42 220.56 L348.42 221.05 L349.41 221.54 L350.41 222.03 L351.41 222.52 L352.41 223.01 L353.41 223.5 L354.4 223.99 L355.4 224.48 L356.4 224.98 L357.4 225.47 L358.4 225.97 L359.39 226.47 L360.39 226.97 L361.39 227.47 L362.39 227.97 L363.39 228.48 L364.38 228.99 L365.38 229.5 L366.38 230.01 L367.38 230.52 L368.38 231.04 L369.37 231.56 L370.37 232.08 L371.37 232.6 L372.37 233.12 L373.37 233.64 L374.36 234.17 L375.36 234.69 L376.36 235.21 L377.36 235.73 L378.36 236.25 L379.35 236.77 L380.35 237.28 L381.35 237.8 L382.35 238.31 L383.35 238.82 L384.34 239.32 L385.34 239.82 L386.34 240.32 L387.34 240.81 L388.34 241.3 L389.33 241.78 L390.33 242.25 L391.33 242.72 L392.33 243.18 L393.33 243.64 L394.32 244.09 L395.32 244.53 L396.32 244.96 L397.32 245.38 L398.32 245.8 L399.31 246.2 L400.31 246.6 L401.31 246.98 L402.31 247.36 L403.3 247.73 L404.3 248.08 L405.3 248.43 L406.3 248.76 L407.3 249.09 L408.29 249.4 L409.29 249.71 L410.29 250 L411.29 250.28 L412.29 250.56 L413.28 250.82 L414.28 251.07 L415.28 251.31 L416.28 251.54 L417.28 251.77 L418.27 251.98 L419.27 252.19 L420.27 252.38 L421.27 252.57 L422.27 252.76 L423.26 252.94 L424.26 253.11 L425.26 253.28 L426.26 253.45 L427.26 253.61 L428.25 253.78 L429.25 253.94 L430.25 254.1" fill="none" stroke="#00e5ff" stroke-width="1.95" stroke-linejoin="round" stroke-linecap="butt" clip-path="url(#c11)"/>
<path d="M258.6 254.26 L259.6 253.41 L260.6 252.56 L261.59 251.7 L262.59 250.86 L263.59 250.01 L264.59 249.17 L265.59 248.34 L266.58 247.51 L267.58 246.7 L268.58 245.89 L269.58 245.09 L270.58 244.3 L271.57 243.53 L272.57 242.77 L273.57 242.02 L274.57 241.29 L275.57 240.58 L276.56 239.88 L277.56 239.2 L278.56 238.54 L279.56 237.91 L280.56 237.29 L281.55 236.7 L282.55 236.12 L283.55 235.57 L284.55 235.04 L285.55 234.53 L286.54 234.04 L287.54 233.57 L288.54 233.11 L289.54 232.68 L290.53 232.26 L291.53 231.86 L292.53 231.47 L293.53 231.11 L294.53 230.75 L295.52 230.41 L296.52 230.09 L297.52 229.78 L298.52 229.48 L299.52 229.2 L300.51 228.93 L301.51 228.67 L302.51 228.42 L303.51 228.19 L304.51 227.96 L305.5 227.74 L306.5 227.54 L307.5 227.34 L308.5 227.15 L309.5 226.97 L310.49 226.79 L311.49 226.63 L312.49 226.47 L313.49 226.32 L314.49 226.17 L315.48 226.03 L316.48 225.89 L317.48 225.76 L318.48 225.64 L319.48 225.51 L320.47 225.39 L321.47 225.28 L322.47 225.16 L323.47 225.05 L324.47 224.94 L325.46 224.83 L326.46 224.73 L327.46 224.63 L328.46 224.53 L329.46 224.44 L330.45 224.35 L331.45 224.27 L332.45 224.19 L333.45 224.12 L334.45 224.05 L335.44 223.99 L336.44 223.93 L337.44 223.88 L338.44 223.83 L339.44 223.79 L340.43 223.76 L341.43 223.73 L342.43 223.71 L343.43 223.7 L344.43 223.7 L345.42 223.7 L346.42 223.71 L347.42 223.73 L348.42 223.76 L349.41 223.79 L350.41 223.83 L351.41 223.88 L352.41 223.93 L353.41 223.99 L354.4 224.05 L355.4 224.12 L356.4 224.19 L357.4 224.27 L358.4 224.35 L359.39 224.44 L360.39 224.53 L361.39 224.63 L362.39 224.73 L363.39 224.83 L364.38 224.94 L365.38 225.05 L366.38 225.16 L367.38 225.28 L368.38 225.39 L369.37 225.51 L370.37 225.64 L371.37 225.76 L372.37 225.89 L373.37 226.03 L374.36 226.17 L375.36 226.32 L376.36 226.47 L377.36 226.63 L378.36 226.79 L379.35 226.97 L380.35 227.15 L381.35 227.34 L382.35 227.54 L383.35 227.74 L384.34 227.96 L385.34 228.19 L386.34 228.42 L387.34 228.67 L388.34 228.93 L389.33 229.2 L390.33 229.48 L391.33 229.78 L392.33 230.09 L393.33 230.41 L394.32 230.75 L395.32 231.11 L396.32 231.47 L397.32 231.86 L398.32 232.26 L399.31 232.68 L400.31 233.11 L401.31 233.57 L402.31 234.04 L403.3 234.53 L404.3 235.04 L405.3 235.57 L406.3 236.12 L407.3 236.7 L408.29 237.29 L409.29 237.91 L410.29 238.54 L411.29 239.2 L412.29 239.88 L413.28 240.58 L414.28 241.29 L415.28 242.02 L416.28 242.77 L417.28 243.53 L418.27 244.3 L419.27 245.09 L420.27 245.89 L421.27 246.7 L422.27 247.51 L423.26 248.34 L424.26 249.17 L425.26 250.01 L426.26 250.86 L427.26 251.7 L428.25 252.56 L429.25 253.41 L430.25 254.26" fill="none" stroke="#0000ff" stroke-width="1.95" stroke-linejoin="round" stroke-linecap="butt" clip-path="url(#c11)"/>
<path d="M258.6 198.28 L259.6 198.2 L260.6 198.13 L261.59 198.06 L262.59 197.99 L263.59 197.93 L264.59 197.88 L265.59 197.84 L266.58 197.82 L267.58 197.82 L268.58 197.84 L269.58 197.89 L270.58 197.96 L271.57 198.08 L272.57 198.23 L273.57 198.43 L274.57 198.68 L275.57 198.99 L276.56 199.36 L277.56 199.8 L278.56 200.32 L279.56 200.93 L280.56 201.64 L281.55 202.46 L282.55 203.39 L283.55 204.44 L284.55 205.6 L285.55 206.88 L286.54 208.28 L287.54 209.79 L288.54 211.37 L289.54 213.02 L290.53 214.69 L291.53 216.38 L292.53 218.05 L293.53 219.68 L294.53 221.23 L295.52 222.69 L296.52 224.01 L297.52 225.18 L298.52 226.21 L299.52 227.09 L300.51 227.84 L301.51 228.46 L302.51 228.95 L303.51 229.33 L304.51 229.59 L305.5 229.74 L306.5 229.8 L307.5 229.77 L308.5 229.65 L309.5 229.48 L310.49 229.24 L311.49 228.97 L312.49 228.66 L313.49 228.33 L314.49 227.99 L315.48 227.62 L316.48 227.25 L317.48 226.88 L318.48 226.5 L319.48 226.13 L320.47 225.76 L321.47 225.4 L322.47 225.04 L323.47 224.69 L324.47 224.34 L325.46 224 L326.46 223.67 L327.46 223.34 L328.46 223.02 L329.46 222.71 L330.45 222.4 L331.45 222.1 L332.45 221.8 L333.45 221.51 L334.45 221.23 L335.44 220.95 L336.44 220.67 L337.44 220.4 L338.44 220.13 L339.44 219.86 L340.43 219.59 L341.43 219.33 L342.43 219.07 L343.43 218.81 L344.43 218.55 L345.42 218.29 L346.42 218.03 L347.42 217.76 L348.42 217.5 L349.41 217.24 L350.41 216.97 L351.41 216.7 L352.41 216.43 L353.41 216.15 L354.4 215.87 L355.4 215.58 L356.4 215.29 L357.4 215 L358.4 214.69 L359.39 214.39 L360.39 214.07 L361.39 213.75 L362.39 213.43 L363.39 213.1 L364.38 212.76 L365.38 212.41 L366.38 212.06 L367.38 211.7 L368.38 211.33 L369.37 210.96 L370.37 210.59 L371.37 210.22 L372.37 209.84 L373.37 209.47 L374.36 209.11 L375.36 208.76 L376.36 208.43 L377.36 208.13 L378.36 207.85 L379.35 207.62 L380.35 207.44 L381.35 207.33 L382.35 207.3 L383.35 207.35 L384.34 207.51 L385.34 207.77 L386.34 208.14 L387.34 208.64 L388.34 209.25 L389.33 210 L390.33 210.89 L391.33 211.91 L392.33 213.09 L393.33 214.41 L394.32 215.86 L395.32 217.42 L396.32 219.04 L397.32 220.72 L398.32 222.4 L399.31 224.08 L400.31 225.72 L401.31 227.31 L402.31 228.82 L403.3 230.22 L404.3 231.5 L405.3 232.66 L406.3 233.7 L407.3 234.63 L408.29 235.46 L409.29 236.17 L410.29 236.78 L411.29 237.3 L412.29 237.74 L413.28 238.11 L414.28 238.42 L415.28 238.67 L416.28 238.87 L417.28 239.02 L418.27 239.13 L419.27 239.21 L420.27 239.26 L421.27 239.28 L422.27 239.28 L423.26 239.25 L424.26 239.22 L425.26 239.17 L426.26 239.11 L427.26 239.04 L428.25 238.97 L429.25 238.89 L430.25 238.82" fill="none" stroke="#ff9500" stroke-width="1.95" stroke-linejoin="round" stroke-linecap="butt" clip-path="url(#c11)"/>
<path d="M258.6 253.43 L259.6 252.66 L260.6 251.88 L261.59 251.1 L262.59 250.32 L263.59 249.54 L264.59 248.75 L265.59 247.96 L266.58 247.17 L267.58 246.38 L268.58 245.58 L269.58 244.78 L270.58 243.97 L271.57 243.15 L272.57 242.33 L273.57 241.51 L274.57 240.68 L275.57 239.85 L276.56 239.01 L277.56 238.17 L278.56 237.33 L279.56 236.49 L280.56 235.64 L281.55 234.8 L282.55 233.98 L283.55 233.21 L284.55 232.5 L285.55 231.87 L286.54 231.33 L287.54 230.91 L288.54 230.61 L289.54 230.44 L290.53 230.4 L291.53 230.5 L292.53 230.74 L293.53 231.11 L294.53 231.61 L295.52 232.21 L296.52 232.93 L297.52 233.76 L298.52 234.68 L299.52 235.7 L300.51 236.8 L301.51 237.99 L302.51 239.26 L303.51 240.58 L304.51 241.91 L305.5 243.22 L306.5 244.48 L307.5 245.64 L308.5 246.7 L309.5 247.67 L310.49 248.56 L311.49 249.37 L312.49 250.11 L313.49 250.79 L314.49 251.43 L315.48 252.02 L316.48 252.56 L317.48 253.07 L318.48 253.55 L319.48 253.99 L320.47 254.4 L321.47 254.79 L322.47 255.15 L323.47 255.48 L324.47 255.79 L325.46 256.08 L326.46 256.34 L327.46 256.58 L328.46 256.79 L329.46 256.98 L330.45 257.15 L331.45 257.3 L332.45 257.43 L333.45 257.54 L334.45 257.64 L335.44 257.73 L336.44 257.81 L337.44 257.88 L338.44 257.94 L339.44 258 L340.43 258.05 L341.43 258.09 L342.43 258.12 L343.43 258.13 L344.43 258.14 L345.42 258.13 L346.42 258.12 L347.42 258.09 L348.42 258.05 L349.41 258 L350.41 257.94 L351.41 257.88 L352.41 257.81 L353.41 257.73 L354.4 257.64 L355.4 257.54 L356.4 257.43 L357.4 257.3 L358.4 257.15 L359.39 256.98 L360.39 256.79 L361.39 256.58 L362.39 256.34 L363.39 256.08 L364.38 255.79 L365.38 255.48 L366.38 255.15 L367.38 254.79 L368.38 254.4 L369.37 253.99 L370.37 253.55 L371.37 253.07 L372.37 252.56 L373.37 252.02 L374.36 251.43 L375.36 250.79 L376.36 250.11 L377.36 249.37 L378.36 248.56 L379.35 247.67 L380.35 246.7 L381.35 245.64 L382.35 244.48 L383.35 243.22 L384.34 241.91 L385.34 240.58 L386.34 239.26 L387.34 237.99 L388.34 236.8 L389.33 235.7 L390.33 234.68 L391.33 233.76 L392.33 232.93 L393.33 232.21 L394.32 231.61 L395.32 231.11 L396.32 230.74 L397.32 230.5 L398.32 230.4 L399.31 230.44 L400.31 230.61 L401.31 230.91 L402.31 231.33 L403.3 231.87 L404.3 232.5 L405.3 233.21 L406.3 233.98 L407.3 234.8 L408.29 235.64 L409.29 236.49 L410.29 237.33 L411.29 238.17 L412.29 239.01 L413.28 239.85 L414.28 240.68 L415.28 241.51 L416.28 242.33 L417.28 243.15 L418.27 243.97 L419.27 244.78 L420.27 245.58 L421.27 246.38 L422.27 247.17 L423.26 247.96 L424.26 248.75 L425.26 249.54 L426.26 250.32 L427.26 251.1 L428.25 251.88 L429.25 252.66 L430.25 253.43" fill="none" stroke="#ff0000" stroke-width="1.95" stroke-linejoin="round" stroke-linecap="butt" clip-path="url(#c11)"/>
<rect x="258.6" y="163.45" width="171.65" height="110.75" fill="none" stroke="#000" stroke-width="1.45"/>
<line x1="258.6" y1="163.45" x2="262.9" y2="163.45" stroke="#000" stroke-width="1.3"/><text x="251.7" y="167.15" text-anchor="end" font-family='"Liberation Sans", sans-serif' font-weight="bold" font-size="10.35">0.1</text><line x1="258.6" y1="191.14" x2="262.9" y2="191.14" stroke="#000" stroke-width="1.3"/><text x="253" y="194.84" text-anchor="end" font-family='"Liberation Sans", sans-serif' font-weight="bold" font-size="10.35">0.05</text><line x1="258.6" y1="218.82" x2="262.9" y2="218.82" stroke="#000" stroke-width="1.3"/><text x="253" y="222.52" text-anchor="end" font-family='"Liberation Sans", sans-serif' font-weight="bold" font-size="10.35">0</text><line x1="258.6" y1="246.51" x2="262.9" y2="246.51" stroke="#000" stroke-width="1.3"/><text x="253" y="250.21" text-anchor="end" font-family='"Liberation Sans", sans-serif' font-weight="bold" font-size="10.35">-0.05</text><line x1="258.6" y1="274.2" x2="262.9" y2="274.2" stroke="#000" stroke-width="1.3"/><text x="251.7" y="277.9" text-anchor="end" font-family='"Liberation Sans", sans-serif' font-weight="bold" font-size="10.35">-0.1</text>
<line x1="301.51" y1="274.2" x2="301.51" y2="269.9" stroke="#000" stroke-width="1.3"/><line x1="344.43" y1="274.2" x2="344.43" y2="269.9" stroke="#000" stroke-width="1.3"/><line x1="387.34" y1="274.2" x2="387.34" y2="269.9" stroke="#000" stroke-width="1.3"/>
<g stroke="#000" stroke-width="0.7" stroke-dasharray="1.1 2.2" opacity="0.62"><line x1="301.51" y1="296.95" x2="301.51" y2="407.5"/><line x1="344.43" y1="296.95" x2="344.43" y2="407.5"/><line x1="387.34" y1="296.95" x2="387.34" y2="407.5"/><line x1="258.6" y1="319.06" x2="430.25" y2="319.06"/><line x1="258.6" y1="341.17" x2="430.25" y2="341.17"/><line x1="258.6" y1="363.28" x2="430.25" y2="363.28"/><line x1="258.6" y1="385.39" x2="430.25" y2="385.39"/></g>
<path d="M258.6 311.63 L259.6 311.92 L260.6 312.21 L261.59 312.5 L262.59 312.79 L263.59 313.08 L264.59 313.37 L265.59 313.66 L266.58 313.95 L267.58 314.25 L268.58 314.54 L269.58 314.84 L270.58 315.14 L271.57 315.45 L272.57 315.75 L273.57 316.06 L274.57 316.37 L275.57 316.69 L276.56 317.01 L277.56 317.33 L278.56 317.65 L279.56 317.98 L280.56 318.31 L281.55 318.65 L282.55 318.99 L283.55 319.34 L284.55 319.69 L285.55 320.05 L286.54 320.41 L287.54 320.78 L288.54 321.15 L289.54 321.52 L290.53 321.89 L291.53 322.27 L292.53 322.65 L293.53 323.03 L294.53 323.42 L295.52 323.8 L296.52 324.18 L297.52 324.57 L298.52 324.95 L299.52 325.33 L300.51 325.71 L301.51 326.09 L302.51 326.47 L303.51 326.84 L304.51 327.21 L305.5 327.58 L306.5 327.95 L307.5 328.32 L308.5 328.68 L309.5 329.05 L310.49 329.41 L311.49 329.77 L312.49 330.13 L313.49 330.49 L314.49 330.85 L315.48 331.21 L316.48 331.57 L317.48 331.93 L318.48 332.29 L319.48 332.65 L320.47 333.01 L321.47 333.37 L322.47 333.74 L323.47 334.1 L324.47 334.46 L325.46 334.83 L326.46 335.2 L327.46 335.57 L328.46 335.94 L329.46 336.31 L330.45 336.68 L331.45 337.05 L332.45 337.42 L333.45 337.79 L334.45 338.17 L335.44 338.54 L336.44 338.91 L337.44 339.29 L338.44 339.66 L339.44 340.04 L340.43 340.42 L341.43 340.79 L342.43 341.17 L343.43 341.55 L344.43 341.92 L345.42 342.3 L346.42 342.67 L347.42 343.05 L348.42 343.43 L349.41 343.8 L350.41 344.18 L351.41 344.55 L352.41 344.93 L353.41 345.3 L354.4 345.68 L355.4 346.05 L356.4 346.42 L357.4 346.8 L358.4 347.17 L359.39 347.54 L360.39 347.91 L361.39 348.28 L362.39 348.65 L363.39 349.01 L364.38 349.38 L365.38 349.74 L366.38 350.11 L367.38 350.47 L368.38 350.83 L369.37 351.19 L370.37 351.55 L371.37 351.91 L372.37 352.27 L373.37 352.63 L374.36 352.99 L375.36 353.35 L376.36 353.71 L377.36 354.07 L378.36 354.44 L379.35 354.8 L380.35 355.16 L381.35 355.53 L382.35 355.89 L383.35 356.26 L384.34 356.63 L385.34 357 L386.34 357.38 L387.34 357.75 L388.34 358.13 L389.33 358.51 L390.33 358.89 L391.33 359.28 L392.33 359.66 L393.33 360.04 L394.32 360.43 L395.32 360.81 L396.32 361.19 L397.32 361.57 L398.32 361.95 L399.31 362.33 L400.31 362.7 L401.31 363.07 L402.31 363.43 L403.3 363.79 L404.3 364.15 L405.3 364.5 L406.3 364.85 L407.3 365.19 L408.29 365.53 L409.29 365.86 L410.29 366.19 L411.29 366.52 L412.29 366.84 L413.28 367.16 L414.28 367.47 L415.28 367.78 L416.28 368.09 L417.28 368.4 L418.27 368.7 L419.27 369 L420.27 369.3 L421.27 369.6 L422.27 369.89 L423.26 370.19 L424.26 370.48 L425.26 370.77 L426.26 371.06 L427.26 371.35 L428.25 371.64 L429.25 371.92 L430.25 372.21" fill="none" stroke="#00e5ff" stroke-width="1.95" stroke-linejoin="round" stroke-linecap="butt" clip-path="url(#c12)"/>
<path d="M258.6 363.9 L259.6 363.38 L260.6 362.86 L261.59 362.34 L262.59 361.82 L263.59 361.31 L264.59 360.79 L265.59 360.29 L266.58 359.78 L267.58 359.29 L268.58 358.79 L269.58 358.31 L270.58 357.83 L271.57 357.36 L272.57 356.9 L273.57 356.45 L274.57 356 L275.57 355.57 L276.56 355.15 L277.56 354.74 L278.56 354.34 L279.56 353.96 L280.56 353.59 L281.55 353.23 L282.55 352.89 L283.55 352.56 L284.55 352.24 L285.55 351.94 L286.54 351.64 L287.54 351.36 L288.54 351.09 L289.54 350.82 L290.53 350.57 L291.53 350.32 L292.53 350.09 L293.53 349.86 L294.53 349.63 L295.52 349.42 L296.52 349.21 L297.52 349.01 L298.52 348.81 L299.52 348.62 L300.51 348.43 L301.51 348.25 L302.51 348.06 L303.51 347.89 L304.51 347.71 L305.5 347.54 L306.5 347.38 L307.5 347.21 L308.5 347.05 L309.5 346.9 L310.49 346.75 L311.49 346.6 L312.49 346.46 L313.49 346.32 L314.49 346.19 L315.48 346.06 L316.48 345.93 L317.48 345.81 L318.48 345.7 L319.48 345.59 L320.47 345.48 L321.47 345.38 L322.47 345.28 L323.47 345.19 L324.47 345.11 L325.46 345.03 L326.46 344.95 L327.46 344.88 L328.46 344.82 L329.46 344.76 L330.45 344.7 L331.45 344.65 L332.45 344.61 L333.45 344.56 L334.45 344.53 L335.44 344.49 L336.44 344.46 L337.44 344.44 L338.44 344.41 L339.44 344.39 L340.43 344.38 L341.43 344.37 L342.43 344.36 L343.43 344.36 L344.43 344.35 L345.42 344.36 L346.42 344.36 L347.42 344.37 L348.42 344.38 L349.41 344.39 L350.41 344.41 L351.41 344.44 L352.41 344.46 L353.41 344.49 L354.4 344.53 L355.4 344.56 L356.4 344.61 L357.4 344.65 L358.4 344.7 L359.39 344.76 L360.39 344.82 L361.39 344.88 L362.39 344.95 L363.39 345.03 L364.38 345.11 L365.38 345.19 L366.38 345.28 L367.38 345.38 L368.38 345.48 L369.37 345.59 L370.37 345.7 L371.37 345.81 L372.37 345.93 L373.37 346.06 L374.36 346.19 L375.36 346.32 L376.36 346.46 L377.36 346.6 L378.36 346.75 L379.35 346.9 L380.35 347.05 L381.35 347.21 L382.35 347.38 L383.35 347.54 L384.34 347.71 L385.34 347.89 L386.34 348.06 L387.34 348.25 L388.34 348.43 L389.33 348.62 L390.33 348.81 L391.33 349.01 L392.33 349.21 L393.33 349.42 L394.32 349.63 L395.32 349.86 L396.32 350.09 L397.32 350.32 L398.32 350.57 L399.31 350.82 L400.31 351.09 L401.31 351.36 L402.31 351.64 L403.3 351.94 L404.3 352.24 L405.3 352.56 L406.3 352.89 L407.3 353.23 L408.29 353.59 L409.29 353.96 L410.29 354.34 L411.29 354.74 L412.29 355.15 L413.28 355.57 L414.28 356 L415.28 356.45 L416.28 356.9 L417.28 357.36 L418.27 357.83 L419.27 358.31 L420.27 358.79 L421.27 359.29 L422.27 359.78 L423.26 360.29 L424.26 360.79 L425.26 361.31 L426.26 361.82 L427.26 362.34 L428.25 362.86 L429.25 363.38 L430.25 363.9" fill="none" stroke="#0000ff" stroke-width="1.95" stroke-linejoin="round" stroke-linecap="butt" clip-path="url(#c12)"/>
<path d="M258.6 329.66 L259.17 329.82 L259.74 329.98 L260.32 330.15 L260.89 330.31 L261.46 330.47 L262.03 330.64 L262.61 330.8 L263.18 330.97 L263.75 331.13 L264.32 331.29 L264.89 331.46 L265.47 331.62 L266.04 331.78 L266.61 331.95 L267.18 332.11 L267.75 332.28 L268.33 332.44 L268.9 332.6 L269.47 332.77 L270.04 332.93 L270.62 333.1 L271.19 333.27 L271.76 333.43 L272.33 333.6 L272.9 333.76 L273.48 333.93 L274.05 334.1 L274.62 334.27 L275.19 334.43 L275.77 334.6 L276.34 334.77 L276.91 334.94 L277.48 335.11 L278.05 335.28 L278.63 335.45 L279.2 335.63 L279.77 335.8 L280.34 335.97 L280.91 336.15 L281.49 336.32 L282.06 336.5 L282.63 336.67 L283.2 336.85 L283.78 337.03 L284.35 337.21 L284.92 337.39 L285.49 337.57 L286.06 337.76 L286.64 337.94 L287.21 338.13 L287.78 338.31 L288.35 338.5 L288.92 338.69 L289.5 338.88 L290.07 339.08 L290.64 339.27 L291.21 339.47 L291.79 339.67 L292.36 339.87 L292.93 340.07 L293.5 340.27 L294.07 340.48 L294.65 340.68 L295.22 340.89 L295.79 341.11 L296.36 341.32 L296.94 341.54 L297.51 341.76 L298.08 341.98 L298.65 342.21 L299.22 342.43 L299.8 342.66 L300.37 342.9 L300.94 343.13 L301.51 343.37 L302.08 343.62 L302.66 343.86 L303.23 344.12 L303.8 344.37 L304.37 344.63 L304.95 344.89 L305.52 345.16 L306.09 345.43 L306.66 345.7 L307.23 345.98 L307.81 346.27 L308.38 346.56 L308.95 346.85 L309.52 347.15 L310.1 347.46 L310.67 347.77 L311.24 348.08 L311.81 348.4 L312.38 348.73 L312.96 349.07 L313.53 349.41 L314.1 349.75 L314.67 350.11 L315.24 350.47 L315.82 350.83 L316.39 351.21 L316.96 351.58 L317.53 351.97 L318.11 352.36 L318.68 352.76 L319.25 353.17 L319.82 353.58 L320.39 354 L320.97 354.43 L321.54 354.86 L322.11 355.3 L322.68 355.74 L323.25 356.18 L323.83 356.63 L324.4 357.07 L324.97 357.52 L325.54 357.97 L326.12 358.41 L326.69 358.85 L327.26 359.28 L327.83 359.7 L328.4 360.11 L328.98 360.5 L329.55 360.86 L330.12 361.2 L330.69 361.51 L331.27 361.78 L331.84 362.01 L332.41 362.18 L332.98 362.3 L333.55 362.35 L334.13 362.32 L334.7 362.2 L335.27 361.99 L335.84 361.67 L336.41 361.24 L336.99 360.68 L337.56 359.98 L338.13 359.15 L338.7 358.18 L339.28 357.05 L339.85 355.78 L340.42 354.36 L340.99 352.8 L341.56 351.12 L342.14 349.32 L342.71 347.43 L343.28 345.46 L343.85 343.44 L344.43 341.39 L345 339.34 L345.57 337.32 L346.14 335.35 L346.71 333.46 L347.29 331.66 L347.86 329.98 L348.43 328.42 L349 327 L349.57 325.73 L350.15 324.61 L350.72 323.63 L351.29 322.8 L351.86 322.11 L352.44 321.55 L353.01 321.11 L353.58 320.79 L354.15 320.58 L354.72 320.46 L355.3 320.43 L355.87 320.48 L356.44 320.6 L357.01 320.77 L357.58 321 L358.16 321.27 L358.73 321.58 L359.3 321.92 L359.87 322.29 L360.45 322.68 L361.02 323.08 L361.59 323.5 L362.16 323.93 L362.73 324.37 L363.31 324.81 L363.88 325.26 L364.45 325.71 L365.02 326.16 L365.6 326.6 L366.17 327.05 L366.74 327.49 L367.31 327.92 L367.88 328.35 L368.46 328.78 L369.03 329.2 L369.6 329.61 L370.17 330.02 L370.74 330.42 L371.32 330.81 L371.89 331.2 L372.46 331.58 L373.03 331.95 L373.61 332.32 L374.18 332.68 L374.75 333.03 L375.32 333.38 L375.89 333.72 L376.47 334.05 L377.04 334.38 L377.61 334.7 L378.18 335.02 L378.75 335.33 L379.33 335.63 L379.9 335.93 L380.47 336.23 L381.04 336.51 L381.62 336.8 L382.19 337.08 L382.76 337.35 L383.33 337.63 L383.9 337.89 L384.48 338.15 L385.05 338.41 L385.62 338.67 L386.19 338.92 L386.77 339.16 L387.34 339.41 L387.91 339.65 L388.48 339.88 L389.05 340.12 L389.63 340.35 L390.2 340.58 L390.77 340.8 L391.34 341.02 L391.91 341.24 L392.49 341.46 L393.06 341.68 L393.63 341.89 L394.2 342.1 L394.78 342.31 L395.35 342.51 L395.92 342.71 L396.49 342.92 L397.06 343.12 L397.64 343.31 L398.21 343.51 L398.78 343.7 L399.35 343.9 L399.93 344.09 L400.5 344.28 L401.07 344.47 L401.64 344.65 L402.21 344.84 L402.79 345.02 L403.36 345.21 L403.93 345.39 L404.5 345.57 L405.07 345.75 L405.65 345.93 L406.22 346.11 L406.79 346.28 L407.36 346.46 L407.94 346.64 L408.51 346.81 L409.08 346.98 L409.65 347.16 L410.22 347.33 L410.8 347.5 L411.37 347.67 L411.94 347.84 L412.51 348.01 L413.09 348.18 L413.66 348.35 L414.23 348.52 L414.8 348.68 L415.37 348.85 L415.95 349.02 L416.52 349.19 L417.09 349.35 L417.66 349.52 L418.23 349.68 L418.81 349.85 L419.38 350.01 L419.95 350.18 L420.52 350.34 L421.1 350.51 L421.67 350.67 L422.24 350.83 L422.81 351 L423.38 351.16 L423.96 351.33 L424.53 351.49 L425.1 351.65 L425.67 351.82 L426.24 351.98 L426.82 352.14 L427.39 352.31 L427.96 352.47 L428.53 352.64 L429.11 352.8 L429.68 352.96 L430.25 353.13" fill="none" stroke="#ff9500" stroke-width="1.95" stroke-linejoin="round" stroke-linecap="butt" clip-path="url(#c12)"/>
<path d="M258.6 364.05 L259.17 363.98 L259.74 363.91 L260.32 363.83 L260.89 363.76 L261.46 363.68 L262.03 363.59 L262.61 363.51 L263.18 363.43 L263.75 363.34 L264.32 363.25 L264.89 363.16 L265.47 363.07 L266.04 362.98 L266.61 362.89 L267.18 362.79 L267.75 362.7 L268.33 362.6 L268.9 362.51 L269.47 362.41 L270.04 362.31 L270.62 362.21 L271.19 362.11 L271.76 362.01 L272.33 361.91 L272.9 361.8 L273.48 361.7 L274.05 361.6 L274.62 361.5 L275.19 361.39 L275.77 361.29 L276.34 361.19 L276.91 361.09 L277.48 360.98 L278.05 360.88 L278.63 360.78 L279.2 360.68 L279.77 360.58 L280.34 360.47 L280.91 360.37 L281.49 360.28 L282.06 360.18 L282.63 360.08 L283.2 359.98 L283.78 359.89 L284.35 359.79 L284.92 359.7 L285.49 359.6 L286.06 359.51 L286.64 359.42 L287.21 359.34 L287.78 359.25 L288.35 359.16 L288.92 359.08 L289.5 359 L290.07 358.92 L290.64 358.84 L291.21 358.77 L291.79 358.7 L292.36 358.63 L292.93 358.56 L293.5 358.49 L294.07 358.43 L294.65 358.37 L295.22 358.32 L295.79 358.26 L296.36 358.21 L296.94 358.17 L297.51 358.12 L298.08 358.08 L298.65 358.05 L299.22 358.02 L299.8 357.99 L300.37 357.97 L300.94 357.95 L301.51 357.93 L302.08 357.92 L302.66 357.92 L303.23 357.92 L303.8 357.93 L304.37 357.94 L304.95 357.96 L305.52 357.98 L306.09 358.01 L306.66 358.05 L307.23 358.09 L307.81 358.14 L308.38 358.2 L308.95 358.26 L309.52 358.34 L310.1 358.42 L310.67 358.51 L311.24 358.61 L311.81 358.72 L312.38 358.84 L312.96 358.97 L313.53 359.11 L314.1 359.27 L314.67 359.43 L315.24 359.61 L315.82 359.8 L316.39 360.01 L316.96 360.23 L317.53 360.46 L318.11 360.71 L318.68 360.98 L319.25 361.27 L319.82 361.57 L320.39 361.9 L320.97 362.25 L321.54 362.61 L322.11 363 L322.68 363.42 L323.25 363.86 L323.83 364.33 L324.4 364.82 L324.97 365.35 L325.54 365.91 L326.12 366.5 L326.69 367.13 L327.26 367.79 L327.83 368.5 L328.4 369.24 L328.98 370.03 L329.55 370.86 L330.12 371.74 L330.69 372.67 L331.27 373.64 L331.84 374.67 L332.41 375.75 L332.98 376.88 L333.55 378.06 L334.13 379.29 L334.7 380.57 L335.27 381.9 L335.84 383.27 L336.41 384.67 L336.99 386.09 L337.56 387.53 L338.13 388.98 L338.7 390.4 L339.28 391.8 L339.85 393.14 L340.42 394.4 L340.99 395.56 L341.56 396.6 L342.14 397.49 L342.71 398.2 L343.28 398.73 L343.85 399.05 L344.43 399.16 L345 399.05 L345.57 398.73 L346.14 398.2 L346.71 397.49 L347.29 396.6 L347.86 395.56 L348.43 394.4 L349 393.14 L349.57 391.8 L350.15 390.4 L350.72 388.98 L351.29 387.53 L351.86 386.09 L352.44 384.67 L353.01 383.27 L353.58 381.9 L354.15 380.57 L354.72 379.29 L355.3 378.06 L355.87 376.88 L356.44 375.75 L357.01 374.67 L357.58 373.64 L358.16 372.67 L358.73 371.74 L359.3 370.86 L359.87 370.03 L360.45 369.24 L361.02 368.5 L361.59 367.79 L362.16 367.13 L362.73 366.5 L363.31 365.91 L363.88 365.35 L364.45 364.82 L365.02 364.33 L365.6 363.86 L366.17 363.42 L366.74 363 L367.31 362.61 L367.88 362.25 L368.46 361.9 L369.03 361.57 L369.6 361.27 L370.17 360.98 L370.74 360.71 L371.32 360.46 L371.89 360.23 L372.46 360.01 L373.03 359.8 L373.61 359.61 L374.18 359.43 L374.75 359.27 L375.32 359.11 L375.89 358.97 L376.47 358.84 L377.04 358.72 L377.61 358.61 L378.18 358.51 L378.75 358.42 L379.33 358.34 L379.9 358.26 L380.47 358.2 L381.04 358.14 L381.62 358.09 L382.19 358.05 L382.76 358.01 L383.33 357.98 L383.9 357.96 L384.48 357.94 L385.05 357.93 L385.62 357.92 L386.19 357.92 L386.77 357.92 L387.34 357.93 L387.91 357.95 L388.48 357.97 L389.05 357.99 L389.63 358.02 L390.2 358.05 L390.77 358.08 L391.34 358.12 L391.91 358.17 L392.49 358.21 L393.06 358.26 L393.63 358.32 L394.2 358.37 L394.78 358.43 L395.35 358.49 L395.92 358.56 L396.49 358.63 L397.06 358.7 L397.64 358.77 L398.21 358.84 L398.78 358.92 L399.35 359 L399.93 359.08 L400.5 359.16 L401.07 359.25 L401.64 359.34 L402.21 359.42 L402.79 359.51 L403.36 359.6 L403.93 359.7 L404.5 359.79 L405.07 359.89 L405.65 359.98 L406.22 360.08 L406.79 360.18 L407.36 360.28 L407.94 360.37 L408.51 360.47 L409.08 360.58 L409.65 360.68 L410.22 360.78 L410.8 360.88 L411.37 360.98 L411.94 361.09 L412.51 361.19 L413.09 361.29 L413.66 361.39 L414.23 361.5 L414.8 361.6 L415.37 361.7 L415.95 361.8 L416.52 361.91 L417.09 362.01 L417.66 362.11 L418.23 362.21 L418.81 362.31 L419.38 362.41 L419.95 362.51 L420.52 362.6 L421.1 362.7 L421.67 362.79 L422.24 362.89 L422.81 362.98 L423.38 363.07 L423.96 363.16 L424.53 363.25 L425.1 363.34 L425.67 363.43 L426.24 363.51 L426.82 363.59 L427.39 363.68 L427.96 363.76 L428.53 363.83 L429.11 363.91 L429.68 363.98 L430.25 364.05" fill="none" stroke="#ff0000" stroke-width="1.95" stroke-linejoin="round" stroke-linecap="butt" clip-path="url(#c12)"/>
<rect x="258.6" y="296.95" width="171.65" height="110.55" fill="none" stroke="#000" stroke-width="1.45"/>
<line x1="258.6" y1="296.95" x2="262.9" y2="296.95" stroke="#000" stroke-width="1.3"/><text x="251.7" y="300.65" text-anchor="end" font-family='"Liberation Sans", sans-serif' font-weight="bold" font-size="10.35">0.1</text><line x1="258.6" y1="319.06" x2="262.9" y2="319.06" stroke="#000" stroke-width="1.3"/><text x="253" y="322.76" text-anchor="end" font-family='"Liberation Sans", sans-serif' font-weight="bold" font-size="10.35">0.05</text><line x1="258.6" y1="341.17" x2="262.9" y2="341.17" stroke="#000" stroke-width="1.3"/><text x="253" y="344.87" text-anchor="end" font-family='"Liberation Sans", sans-serif' font-weight="bold" font-size="10.35">0</text><line x1="258.6" y1="363.28" x2="262.9" y2="363.28" stroke="#000" stroke-width="1.3"/><text x="253" y="366.98" text-anchor="end" font-family='"Liberation Sans", sans-serif' font-weight="bold" font-size="10.35">-0.05</text><line x1="258.6" y1="385.39" x2="262.9" y2="385.39" stroke="#000" stroke-width="1.3"/><text x="251.7" y="389.09" text-anchor="end" font-family='"Liberation Sans", sans-serif' font-weight="bold" font-size="10.35">-0.1</text><line x1="258.6" y1="407.5" x2="262.9" y2="407.5" stroke="#000" stroke-width="1.3"/><text x="253" y="411.2" text-anchor="end" font-family='"Liberation Sans", sans-serif' font-weight="bold" font-size="10.35">-0.15</text>
<line x1="258.6" y1="407.5" x2="258.6" y2="403.2" stroke="#000" stroke-width="1.3"/><text x="258.6" y="421.45" text-anchor="middle" font-family='"Liberation Sans", sans-serif' font-weight="bold" font-size="10.35">-0.3</text><line x1="301.51" y1="407.5" x2="301.51" y2="403.2" stroke="#000" stroke-width="1.3"/><text x="301.51" y="421.45" text-anchor="middle" font-family='"Liberation Sans", sans-serif' font-weight="bold" font-size="10.35">-0.15</text><line x1="344.43" y1="407.5" x2="344.43" y2="403.2" stroke="#000" stroke-width="1.3"/><text x="344.43" y="421.45" text-anchor="middle" font-family='"Liberation Sans", sans-serif' font-weight="bold" font-size="10.35">0.0</text><line x1="387.34" y1="407.5" x2="387.34" y2="403.2" stroke="#000" stroke-width="1.3"/><text x="387.34" y="421.45" text-anchor="middle" font-family='"Liberation Sans", sans-serif' font-weight="bold" font-size="10.35">0.15</text><line x1="430.25" y1="407.5" x2="430.25" y2="403.2" stroke="#000" stroke-width="1.3"/><text x="430.25" y="421.45" text-anchor="middle" font-family='"Liberation Sans", sans-serif' font-weight="bold" font-size="10.35">0.3</text>
<path d="M467.88 139.85 L470.1 139.73 L472.27 139.6 L474.45 139.46 L476.63 139.32 L478.81 139.16 L480.99 138.99 L483.17 138.81 L485.35 138.61 L487.52 138.4 L489.7 138.16 L491.88 137.9 L494.06 137.6 L496.24 137.28 L498.42 136.91 L500.6 136.5 L502.77 136.03 L504.95 135.48 L507.13 134.86 L509.31 134.13 L511.49 133.28 L513.67 132.26 L515.85 131.05 L518.02 129.6 L520.2 127.82 L522.38 125.64 L524.56 122.93 L526.74 119.53 L528.92 115.23 L531.1 109.74 L533.27 102.74 L535.45 93.83 L537.63 82.73 L539.81 69.45 L541.99 54.84 L544.17 41 L548.53 27.82 L552.88 41 L555.06 54.84 L557.24 69.45 L559.42 82.73 L561.6 93.83 L563.78 102.74 L565.95 109.74 L568.13 115.23 L570.31 119.53 L572.49 122.93 L574.67 125.64 L576.85 127.82 L579.03 129.6 L581.2 131.05 L583.38 132.26 L585.56 133.28 L587.74 134.13 L589.92 134.86 L592.1 135.48 L594.28 136.03 L596.45 136.5 L598.63 136.91 L600.81 137.28 L602.99 137.6 L605.17 137.9 L607.35 138.16 L609.53 138.4 L611.7 138.61 L613.88 138.81 L616.06 138.99 L618.24 139.16 L620.42 139.32 L622.6 139.46 L624.78 139.6 L626.95 139.73 L629.17 139.85" fill="none" stroke="#0000ff" stroke-width="2.0" stroke-linejoin="miter" stroke-miterlimit="20" clip-path="url(#c20)"/>
<path d="M467.88 135.76 L469.23 135.56 L470.57 135.35 L471.92 135.15 L473.26 134.93 L474.6 134.71 L475.95 134.49 L477.29 134.25 L478.64 134.01 L479.98 133.75 L481.32 133.47 L482.67 133.19 L484.01 132.88 L485.36 132.57 L486.7 132.23 L488.04 131.88 L489.39 131.52 L490.73 131.13 L492.08 130.73 L493.42 130.32 L494.76 129.88 L496.11 129.43 L497.45 128.97 L498.8 128.48 L500.14 127.98 L501.48 127.46 L502.83 126.92 L504.17 126.36 L505.52 125.78 L506.86 125.17 L508.2 124.55 L509.55 123.9 L510.89 123.23 L512.24 122.53 L513.58 121.8 L514.92 121.05 L516.27 120.27 L517.61 119.46 L518.96 118.63 L520.3 117.76 L521.64 116.87 L522.99 115.94 L524.33 114.98 L525.68 114 L527.02 112.98 L528.36 111.95 L529.71 110.91 L531.05 109.87 L532.4 108.83 L533.74 107.82 L535.08 106.85 L536.43 105.94 L537.77 105.11 L539.12 104.37 L540.46 103.75 L541.8 103.24 L543.15 102.84 L544.49 102.54 L545.84 102.34 L547.18 102.22 L548.53 102.18 L549.87 102.22 L551.21 102.34 L552.56 102.54 L553.9 102.84 L555.25 103.24 L556.59 103.75 L557.93 104.37 L559.28 105.11 L560.62 105.94 L561.97 106.85 L563.31 107.82 L564.65 108.83 L566 109.87 L567.34 110.91 L568.69 111.95 L570.03 112.98 L571.37 114 L572.72 114.98 L574.06 115.94 L575.41 116.87 L576.75 117.76 L578.09 118.63 L579.44 119.46 L580.78 120.27 L582.13 121.05 L583.47 121.8 L584.81 122.53 L586.16 123.23 L587.5 123.9 L588.85 124.55 L590.19 125.17 L591.53 125.78 L592.88 126.36 L594.22 126.92 L595.57 127.46 L596.91 127.98 L598.25 128.48 L599.6 128.97 L600.94 129.43 L602.29 129.88 L603.63 130.32 L604.97 130.73 L606.32 131.13 L607.66 131.52 L609.01 131.88 L610.35 132.23 L611.69 132.57 L613.04 132.88 L614.38 133.19 L615.73 133.47 L617.07 133.75 L618.41 134.01 L619.76 134.25 L621.1 134.49 L622.45 134.71 L623.79 134.93 L625.13 135.15 L626.48 135.35 L627.82 135.56 L629.17 135.76" fill="none" stroke="#ff0000" stroke-width="2.35" stroke-linejoin="round" clip-path="url(#c20)"/>
<rect x="467.9" y="29.65" width="161.35" height="110.65" fill="none" stroke="#000" stroke-width="1.45"/>
<line x1="481.54" y1="140.3" x2="481.54" y2="136" stroke="#000" stroke-width="1.3"/><line x1="515.06" y1="140.3" x2="515.06" y2="136" stroke="#000" stroke-width="1.3"/><line x1="548.58" y1="140.3" x2="548.58" y2="136" stroke="#000" stroke-width="1.3"/><line x1="582.09" y1="140.3" x2="582.09" y2="136" stroke="#000" stroke-width="1.3"/><line x1="615.61" y1="140.3" x2="615.61" y2="136" stroke="#000" stroke-width="1.3"/>
<text transform="translate(462.1 84.68) rotate(-90)" text-anchor="middle" font-family='"Liberation Sans", sans-serif' font-weight="bold" font-size="10.35">arb. units</text>
<text x="581.2" y="42.8" text-anchor="end" font-family='"Liberation Sans", sans-serif' font-weight="bold" font-size="10.5">DMFT</text>
<text x="581.2" y="53.3" text-anchor="end" font-size="10.5"><tspan font-family='"Liberation Sans", sans-serif' font-weight="bold">D</tspan><tspan font-family='"Liberation Serif", serif'>Γ</tspan><tspan font-family='"Liberation Sans", sans-serif' font-weight="bold">A</tspan></text>
<line x1="587.2" y1="39.2" x2="617" y2="39.2" stroke="#0000ff" stroke-width="2.0"/>
<line x1="587.2" y1="49.7" x2="617" y2="49.7" stroke="#ff0000" stroke-width="2.35"/>
<path d="M467.88 273.96 L470.1 273.94 L472.27 273.92 L474.45 273.91 L476.63 273.88 L478.81 273.86 L480.99 273.84 L483.17 273.81 L485.35 273.78 L487.52 273.74 L489.7 273.7 L491.88 273.66 L494.06 273.61 L496.24 273.55 L498.42 273.48 L500.6 273.4 L502.77 273.32 L504.95 273.21 L507.13 273.09 L509.31 272.95 L511.49 272.78 L513.67 272.57 L515.85 272.32 L518.02 272.01 L520.2 271.62 L522.38 271.12 L524.56 270.48 L526.74 269.63 L528.92 268.49 L531.1 266.89 L533.27 264.62 L535.45 261.24 L537.63 256.03 L539.81 247.66 L541.99 233.86 L544.17 211.59 L548.53 163.51 L552.88 211.59 L555.06 233.86 L557.24 247.66 L559.42 256.03 L561.6 261.24 L563.78 264.62 L565.95 266.89 L568.13 268.49 L570.31 269.63 L572.49 270.48 L574.67 271.12 L576.85 271.62 L579.03 272.01 L581.2 272.32 L583.38 272.57 L585.56 272.78 L587.74 272.95 L589.92 273.09 L592.1 273.21 L594.28 273.32 L596.45 273.4 L598.63 273.48 L600.81 273.55 L602.99 273.61 L605.17 273.66 L607.35 273.7 L609.53 273.74 L611.7 273.78 L613.88 273.81 L616.06 273.84 L618.24 273.86 L620.42 273.88 L622.6 273.91 L624.78 273.92 L626.95 273.94 L629.17 273.96" fill="none" stroke="#0000ff" stroke-width="2.0" stroke-linejoin="miter" stroke-miterlimit="20" clip-path="url(#c21)"/>
<path d="M467.88 270.82 L469.23 270.63 L470.57 270.43 L471.92 270.23 L473.26 270.04 L474.6 269.84 L475.95 269.63 L477.29 269.43 L478.64 269.22 L479.98 269.01 L481.32 268.8 L482.67 268.58 L484.01 268.36 L485.36 268.14 L486.7 267.91 L488.04 267.69 L489.39 267.46 L490.73 267.23 L492.08 267 L493.42 266.77 L494.76 266.55 L496.11 266.33 L497.45 266.11 L498.8 265.89 L500.14 265.68 L501.48 265.47 L502.83 265.27 L504.17 265.07 L505.52 264.87 L506.86 264.68 L508.2 264.48 L509.55 264.29 L510.89 264.1 L512.24 263.91 L513.58 263.72 L514.92 263.54 L516.27 263.35 L517.61 263.16 L518.96 262.97 L520.3 262.79 L521.64 262.61 L522.99 262.43 L524.33 262.26 L525.68 262.09 L527.02 261.93 L528.36 261.77 L529.71 261.62 L531.05 261.48 L532.4 261.35 L533.74 261.23 L535.08 261.11 L536.43 261.01 L537.77 260.92 L539.12 260.84 L540.46 260.76 L541.8 260.7 L543.15 260.65 L544.49 260.61 L545.84 260.58 L547.18 260.56 L548.53 260.56 L549.87 260.56 L551.21 260.58 L552.56 260.61 L553.9 260.65 L555.25 260.7 L556.59 260.76 L557.93 260.84 L559.28 260.92 L560.62 261.01 L561.97 261.11 L563.31 261.23 L564.65 261.35 L566 261.48 L567.34 261.62 L568.69 261.77 L570.03 261.93 L571.37 262.09 L572.72 262.26 L574.06 262.43 L575.41 262.61 L576.75 262.79 L578.09 262.97 L579.44 263.16 L580.78 263.35 L582.13 263.54 L583.47 263.72 L584.81 263.91 L586.16 264.1 L587.5 264.29 L588.85 264.48 L590.19 264.68 L591.53 264.87 L592.88 265.07 L594.22 265.27 L595.57 265.47 L596.91 265.68 L598.25 265.89 L599.6 266.11 L600.94 266.33 L602.29 266.55 L603.63 266.77 L604.97 267 L606.32 267.23 L607.66 267.46 L609.01 267.69 L610.35 267.91 L611.69 268.14 L613.04 268.36 L614.38 268.58 L615.73 268.8 L617.07 269.01 L618.41 269.22 L619.76 269.43 L621.1 269.63 L622.45 269.84 L623.79 270.04 L625.13 270.23 L626.48 270.43 L627.82 270.63 L629.17 270.82" fill="none" stroke="#ff0000" stroke-width="2.35" stroke-linejoin="round" clip-path="url(#c21)"/>
<rect x="467.9" y="163.45" width="161.35" height="110.75" fill="none" stroke="#000" stroke-width="1.45"/>
<line x1="481.54" y1="274.2" x2="481.54" y2="269.9" stroke="#000" stroke-width="1.3"/><line x1="515.06" y1="274.2" x2="515.06" y2="269.9" stroke="#000" stroke-width="1.3"/><line x1="548.58" y1="274.2" x2="548.58" y2="269.9" stroke="#000" stroke-width="1.3"/><line x1="582.09" y1="274.2" x2="582.09" y2="269.9" stroke="#000" stroke-width="1.3"/><line x1="615.61" y1="274.2" x2="615.61" y2="269.9" stroke="#000" stroke-width="1.3"/>
<text transform="translate(462.1 218.52) rotate(-90)" text-anchor="middle" font-family='"Liberation Sans", sans-serif' font-weight="bold" font-size="10.35">arb. units</text>
<path d="M467.88 407.38 L470.1 407.38 L472.27 407.37 L474.45 407.36 L476.63 407.34 L478.81 407.33 L480.99 407.32 L483.17 407.3 L485.35 407.28 L487.52 407.26 L489.7 407.24 L491.88 407.21 L494.06 407.18 L496.24 407.14 L498.42 407.1 L500.6 407.06 L502.77 407 L504.95 406.93 L507.13 406.85 L509.31 406.76 L511.49 406.64 L513.67 406.5 L515.85 406.33 L518.02 406.11 L520.2 405.83 L522.38 405.47 L524.56 405 L526.74 404.36 L528.92 403.49 L531.1 402.25 L533.27 400.45 L535.45 397.74 L537.63 393.48 L539.81 386.53 L541.99 374.74 L544.17 354.65 L548.53 296.87 L552.88 354.65 L555.06 374.74 L557.24 386.53 L559.42 393.48 L561.6 397.74 L563.78 400.45 L565.95 402.25 L568.13 403.49 L570.31 404.36 L572.49 405 L574.67 405.47 L576.85 405.83 L579.03 406.11 L581.2 406.33 L583.38 406.5 L585.56 406.64 L587.74 406.76 L589.92 406.85 L592.1 406.93 L594.28 407 L596.45 407.06 L598.63 407.1 L600.81 407.14 L602.99 407.18 L605.17 407.21 L607.35 407.24 L609.53 407.26 L611.7 407.28 L613.88 407.3 L616.06 407.32 L618.24 407.33 L620.42 407.34 L622.6 407.36 L624.78 407.37 L626.95 407.38 L629.17 407.38" fill="none" stroke="#0000ff" stroke-width="2.0" stroke-linejoin="miter" stroke-miterlimit="20" clip-path="url(#c22)"/>
<path d="M467.88 405.73 L469.23 405.54 L470.57 405.35 L471.92 405.16 L473.26 404.95 L474.6 404.74 L475.95 404.52 L477.29 404.29 L478.64 404.04 L479.98 403.77 L481.32 403.48 L482.67 403.17 L484.01 402.84 L485.36 402.48 L486.7 402.09 L488.04 401.68 L489.39 401.23 L490.73 400.75 L492.08 400.23 L493.42 399.68 L494.76 399.1 L496.11 398.52 L497.45 397.93 L498.8 397.37 L500.14 396.85 L501.48 396.37 L502.83 395.95 L504.17 395.59 L505.52 395.3 L506.86 395.08 L508.2 394.93 L509.55 394.86 L510.89 394.89 L512.24 394.99 L513.58 395.19 L514.92 395.45 L516.27 395.79 L517.61 396.18 L518.96 396.63 L520.3 397.12 L521.64 397.63 L522.99 398.15 L524.33 398.66 L525.68 399.13 L527.02 399.57 L528.36 399.94 L529.71 400.27 L531.05 400.56 L532.4 400.8 L533.74 401.01 L535.08 401.18 L536.43 401.32 L537.77 401.44 L539.12 401.54 L540.46 401.61 L541.8 401.66 L543.15 401.7 L544.49 401.73 L545.84 401.74 L547.18 401.75 L548.53 401.75 L549.87 401.75 L551.21 401.74 L552.56 401.73 L553.9 401.7 L555.25 401.66 L556.59 401.61 L557.93 401.54 L559.28 401.44 L560.62 401.32 L561.97 401.18 L563.31 401.01 L564.65 400.8 L566 400.56 L567.34 400.27 L568.69 399.94 L570.03 399.57 L571.37 399.13 L572.72 398.66 L574.06 398.15 L575.41 397.63 L576.75 397.12 L578.09 396.63 L579.44 396.18 L580.78 395.79 L582.13 395.45 L583.47 395.19 L584.81 394.99 L586.16 394.89 L587.5 394.86 L588.85 394.93 L590.19 395.08 L591.53 395.3 L592.88 395.59 L594.22 395.95 L595.57 396.37 L596.91 396.85 L598.25 397.37 L599.6 397.93 L600.94 398.52 L602.29 399.1 L603.63 399.68 L604.97 400.23 L606.32 400.75 L607.66 401.23 L609.01 401.68 L610.35 402.09 L611.69 402.48 L613.04 402.84 L614.38 403.17 L615.73 403.48 L617.07 403.77 L618.41 404.04 L619.76 404.29 L621.1 404.52 L622.45 404.74 L623.79 404.95 L625.13 405.16 L626.48 405.35 L627.82 405.54 L629.17 405.73" fill="none" stroke="#ff0000" stroke-width="2.35" stroke-linejoin="round" clip-path="url(#c22)"/>
<rect x="467.9" y="296.95" width="161.35" height="110.55" fill="none" stroke="#000" stroke-width="1.45"/>
<line x1="481.54" y1="407.5" x2="481.54" y2="403.2" stroke="#000" stroke-width="1.3"/><text x="481.54" y="421.45" text-anchor="middle" font-family='"Liberation Sans", sans-serif' font-weight="bold" font-size="10.35">-0.1</text><line x1="515.06" y1="407.5" x2="515.06" y2="403.2" stroke="#000" stroke-width="1.3"/><text x="515.06" y="421.45" text-anchor="middle" font-family='"Liberation Sans", sans-serif' font-weight="bold" font-size="10.35">-0.05</text><line x1="548.58" y1="407.5" x2="548.58" y2="403.2" stroke="#000" stroke-width="1.3"/><text x="548.58" y="421.45" text-anchor="middle" font-family='"Liberation Sans", sans-serif' font-weight="bold" font-size="10.35">0.0</text><line x1="582.09" y1="407.5" x2="582.09" y2="403.2" stroke="#000" stroke-width="1.3"/><text x="582.09" y="421.45" text-anchor="middle" font-family='"Liberation Sans", sans-serif' font-weight="bold" font-size="10.35">0.05</text><line x1="615.61" y1="407.5" x2="615.61" y2="403.2" stroke="#000" stroke-width="1.3"/><text x="615.61" y="421.45" text-anchor="middle" font-family='"Liberation Sans", sans-serif' font-weight="bold" font-size="10.35">0.1</text>
<text transform="translate(462.1 351.93) rotate(-90)" text-anchor="middle" font-family='"Liberation Sans", sans-serif' font-weight="bold" font-size="10.35">arb. units</text>
<text x="132.6" y="18.4" text-anchor="middle" font-size="13.6"><tspan font-family='"Liberation Sans", sans-serif' font-weight="bold">Im</tspan><tspan font-family='"Liberation Serif", serif' font-size="14.6">Σ</tspan><tspan font-family='"Liberation Sans", sans-serif' font-weight="bold">(i</tspan><tspan font-family='"Liberation Serif", serif' font-size="15.6">ν</tspan><tspan font-family='"Liberation Sans", sans-serif' font-weight="bold">,k</tspan><tspan font-family='"Liberation Sans", sans-serif' font-weight="bold" font-size="10.8" dy="4.4">A</tspan><tspan font-family='"Liberation Sans", sans-serif' font-weight="bold" font-size="13.6" dy="-4.4">)</tspan></text>
<text x="344.4" y="18.4" text-anchor="middle" font-size="13.6"><tspan font-family='"Liberation Serif", serif' font-size="14.6">Σ</tspan><tspan font-family='"Liberation Sans", sans-serif' font-weight="bold">(</tspan><tspan font-family='"Liberation Serif", serif' font-size="16.5">ω</tspan><tspan font-family='"Liberation Sans", sans-serif' font-weight="bold">,k</tspan><tspan font-family='"Liberation Sans", sans-serif' font-weight="bold" font-size="10.8" dy="4.4">A</tspan><tspan font-family='"Liberation Sans", sans-serif' font-weight="bold" font-size="13.6" dy="-4.4">)</tspan></text>
<text x="548.6" y="18.4" text-anchor="middle" font-size="13.6"><tspan font-family='"Liberation Sans", sans-serif' font-weight="bold">A(</tspan><tspan font-family='"Liberation Serif", serif' font-size="16.5">ω</tspan><tspan font-family='"Liberation Sans", sans-serif' font-weight="bold">,k</tspan><tspan font-family='"Liberation Sans", sans-serif' font-weight="bold" font-size="10.8" dy="4.4">A</tspan><tspan font-family='"Liberation Sans", sans-serif' font-weight="bold" font-size="13.6" dy="-4.4">)</tspan></text>
<text x="132.9" y="434.9" text-anchor="middle" font-size="13.5"><tspan font-family='"Liberation Serif", serif'>νβ</tspan><tspan font-family='"Liberation Sans", sans-serif'>/</tspan><tspan font-family='"Liberation Serif", serif'>π</tspan></text>
<text x="345" y="434.3" text-anchor="middle" font-size="13.8" font-family='"Liberation Serif", serif'>ω</text>
<text x="549" y="434.3" text-anchor="middle" font-size="13.8" font-family='"Liberation Serif", serif'>ω</text></svg>
</body></html>
